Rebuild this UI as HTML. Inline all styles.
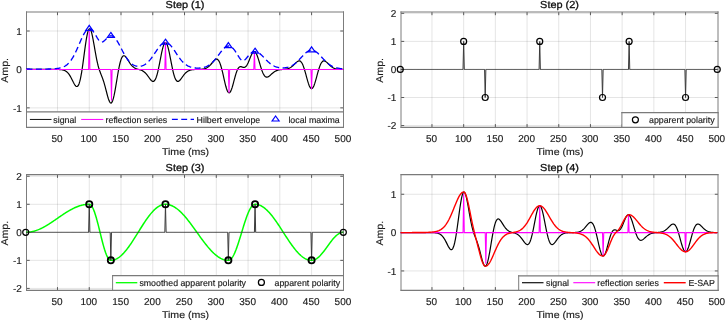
<!DOCTYPE html>
<html><head><meta charset="utf-8"><title>Steps</title><style>
html,body{margin:0;padding:0;background:#fff;}
body{width:725px;height:321px;overflow:hidden;}
svg{display:block;text-rendering:geometricPrecision;}
text{font-family:"Liberation Sans",Arial,Helvetica,sans-serif;fill:#1a1a1a;stroke:#1a1a1a;stroke-width:0.15px;stroke-linejoin:round;}
.tk{font-size:10.00px;}
.lb{font-size:9.80px;}
.ti{font-size:10.10px;fill:#111;stroke:#111;stroke-width:0.3px;}
.lg{font-size:8.80px;}
</style></head><body>
<svg width="725" height="321" viewBox="0 0 725 321">
<defs><clipPath id="c1"><rect x="26.00" y="11.50" width="318.00" height="116.30"/></clipPath><clipPath id="c2"><rect x="400.50" y="11.50" width="318.00" height="116.30"/></clipPath><clipPath id="c3"><rect x="26.00" y="174.20" width="318.00" height="116.60"/></clipPath><clipPath id="c4"><rect x="400.50" y="174.20" width="318.00" height="116.60"/></clipPath></defs>
<g id="ax1">
<g stroke="#262626" stroke-opacity="0.12" stroke-width="1" fill="none"><path d="M57.48 12.00V127.30"/><path d="M89.25 12.00V127.30"/><path d="M121.01 12.00V127.30"/><path d="M152.77 12.00V127.30"/><path d="M184.53 12.00V127.30"/><path d="M216.29 12.00V127.30"/><path d="M248.06 12.00V127.30"/><path d="M279.82 12.00V127.30"/><path d="M311.58 12.00V127.30"/><path d="M26.50 107.86H343.50"/><path d="M26.50 69.43H343.50"/><path d="M26.50 31.00H343.50"/></g>
<path d="M57.48 12.00v3.2M57.48 127.30v-3.2M89.25 12.00v3.2M89.25 127.30v-3.2M121.01 12.00v3.2M121.01 127.30v-3.2M152.77 12.00v3.2M152.77 127.30v-3.2M184.53 12.00v3.2M184.53 127.30v-3.2M216.29 12.00v3.2M216.29 127.30v-3.2M248.06 12.00v3.2M248.06 127.30v-3.2M279.82 12.00v3.2M279.82 127.30v-3.2M311.58 12.00v3.2M311.58 127.30v-3.2M26.50 107.86h3.2M343.50 107.86h-3.2M26.50 69.43h3.2M343.50 69.43h-3.2M26.50 31.00h3.2M343.50 31.00h-3.2" stroke="#5a5a5a" stroke-width="1" fill="none"/>
<path d="M26.50 11.40V127.90M343.50 11.40V127.90" stroke="#7c7c7c" stroke-width="1" fill="none"/><path d="M26.00 12.00H344.00M26.00 127.30H344.00" stroke="#7a7a7a" stroke-width="1.2" fill="none"/>
<g clip-path="url(#c1)" fill="none" stroke-linejoin="round">
<path d="M25.72 69.43 L26.36 69.43 L26.99 69.43 L27.63 69.43 L28.26 69.43 L28.90 69.43 L29.53 69.43 L30.17 69.43 L30.80 69.43 L31.44 69.43 L32.07 69.43 L32.71 69.43 L33.34 69.43 L33.98 69.43 L34.61 69.43 L35.25 69.43 L35.88 69.43 L36.52 69.43 L37.15 69.43 L37.79 69.43 L38.42 69.43 L39.06 69.43 L39.70 69.43 L40.33 69.43 L40.97 69.43 L41.60 69.43 L42.24 69.43 L42.87 69.43 L43.51 69.43 L44.14 69.43 L44.78 69.43 L45.41 69.43 L46.05 69.43 L46.68 69.43 L47.32 69.43 L47.95 69.43 L48.59 69.43 L49.22 69.43 L49.86 69.43 L50.49 69.43 L51.13 69.43 L51.77 69.43 L52.40 69.43 L53.04 69.43 L53.67 69.43 L54.31 69.44 L54.94 69.44 L55.58 69.44 L56.21 69.45 L56.85 69.46 L57.48 69.47 L58.12 69.48 L58.75 69.50 L59.39 69.53 L60.02 69.57 L60.66 69.62 L61.29 69.69 L61.93 69.78 L62.56 69.90 L63.20 70.05 L63.84 70.24 L64.47 70.47 L65.11 70.77 L65.74 71.12 L66.38 71.56 L67.01 72.08 L67.65 72.69 L68.28 73.40 L68.92 74.21 L69.55 75.13 L70.19 76.15 L70.82 77.27 L71.46 78.46 L72.09 79.71 L72.73 80.99 L73.36 82.25 L74.00 83.46 L74.63 84.55 L75.27 85.47 L75.90 86.15 L76.54 86.52 L77.18 86.52 L77.81 86.08 L78.45 85.16 L79.08 83.69 L79.72 81.68 L80.35 79.09 L80.99 75.96 L81.62 72.33 L82.26 68.25 L82.89 63.83 L83.53 59.16 L84.16 54.38 L84.80 49.64 L85.43 45.07 L86.07 40.84 L86.70 37.08 L87.34 33.91 L87.97 31.44 L88.61 29.75 L89.25 28.88 L89.88 28.85 L90.52 29.62 L91.15 31.15 L91.79 33.35 L92.42 36.11 L93.06 39.30 L93.69 42.79 L94.33 46.44 L94.96 50.12 L95.60 53.72 L96.23 57.14 L96.87 60.31 L97.50 63.19 L98.14 65.76 L98.77 68.03 L99.41 70.04 L100.04 71.84 L100.68 73.50 L101.31 75.10 L101.95 76.71 L102.59 78.39 L103.22 80.20 L103.86 82.17 L104.49 84.31 L105.13 86.61 L105.76 89.04 L106.40 91.52 L107.03 93.99 L107.67 96.36 L108.30 98.51 L108.94 100.34 L109.57 101.77 L110.21 102.70 L110.84 103.07 L111.48 102.82 L112.11 101.94 L112.75 100.43 L113.38 98.33 L114.02 95.69 L114.66 92.59 L115.29 89.14 L115.93 85.43 L116.56 81.60 L117.20 77.74 L117.83 73.98 L118.47 70.42 L119.10 67.15 L119.74 64.23 L120.37 61.72 L121.01 59.65 L121.64 58.03 L122.28 56.86 L122.91 56.11 L123.55 55.76 L124.18 55.76 L124.82 56.05 L125.45 56.60 L126.09 57.33 L126.72 58.21 L127.36 59.17 L128.00 60.18 L128.63 61.21 L129.27 62.21 L129.90 63.16 L130.54 64.06 L131.17 64.88 L131.81 65.62 L132.44 66.27 L133.08 66.84 L133.71 67.34 L134.35 67.76 L134.98 68.13 L135.62 68.43 L136.25 68.69 L136.89 68.92 L137.52 69.12 L138.16 69.30 L138.79 69.48 L139.43 69.65 L140.06 69.84 L140.70 70.05 L141.34 70.28 L141.97 70.56 L142.61 70.88 L143.24 71.25 L143.88 71.69 L144.51 72.19 L145.15 72.77 L145.78 73.41 L146.42 74.13 L147.05 74.91 L147.69 75.75 L148.32 76.63 L148.96 77.52 L149.59 78.41 L150.23 79.25 L150.86 80.02 L151.50 80.66 L152.13 81.14 L152.77 81.40 L153.41 81.40 L154.04 81.10 L154.68 80.45 L155.31 79.43 L155.95 78.02 L156.58 76.22 L157.22 74.05 L157.85 71.52 L158.49 68.69 L159.12 65.62 L159.76 62.39 L160.39 59.09 L161.03 55.84 L161.66 52.73 L162.30 49.87 L162.93 47.37 L163.57 45.31 L164.20 43.79 L164.84 42.85 L165.47 42.53 L166.11 42.85 L166.75 43.79 L167.38 45.31 L168.02 47.37 L168.65 49.87 L169.29 52.73 L169.92 55.84 L170.56 59.09 L171.19 62.39 L171.83 65.62 L172.46 68.69 L173.10 71.52 L173.73 74.05 L174.37 76.22 L175.00 78.02 L175.64 79.43 L176.27 80.45 L176.91 81.10 L177.54 81.40 L178.18 81.40 L178.82 81.14 L179.45 80.66 L180.09 80.02 L180.72 79.25 L181.36 78.41 L181.99 77.52 L182.63 76.63 L183.26 75.75 L183.90 74.91 L184.53 74.13 L185.17 73.42 L185.80 72.78 L186.44 72.21 L187.07 71.71 L187.71 71.28 L188.34 70.92 L188.98 70.62 L189.61 70.37 L190.25 70.16 L190.88 69.99 L191.52 69.86 L192.16 69.76 L192.79 69.68 L193.43 69.61 L194.06 69.56 L194.70 69.52 L195.33 69.49 L195.97 69.47 L196.60 69.45 L197.24 69.43 L197.87 69.42 L198.51 69.40 L199.14 69.38 L199.78 69.35 L200.41 69.32 L201.05 69.27 L201.68 69.22 L202.32 69.15 L202.95 69.06 L203.59 68.95 L204.23 68.80 L204.86 68.63 L205.50 68.41 L206.13 68.15 L206.77 67.84 L207.40 67.48 L208.04 67.05 L208.67 66.56 L209.31 66.01 L209.94 65.40 L210.58 64.73 L211.21 64.01 L211.85 63.26 L212.48 62.50 L213.12 61.74 L213.75 61.01 L214.39 60.36 L215.02 59.80 L215.66 59.40 L216.29 59.17 L216.93 59.17 L217.57 59.43 L218.20 59.99 L218.84 60.86 L219.47 62.07 L220.11 63.61 L220.74 65.48 L221.38 67.65 L222.01 70.08 L222.65 72.72 L223.28 75.49 L223.92 78.32 L224.55 81.13 L225.19 83.81 L225.82 86.28 L226.46 88.46 L227.09 90.26 L227.73 91.62 L228.36 92.49 L229.00 92.85 L229.64 92.69 L230.27 92.01 L230.91 90.86 L231.54 89.30 L232.18 87.39 L232.81 85.21 L233.45 82.87 L234.08 80.44 L234.72 78.03 L235.35 75.72 L235.99 73.59 L236.62 71.70 L237.26 70.10 L237.89 68.81 L238.53 67.84 L239.16 67.17 L239.80 66.79 L240.43 66.65 L241.07 66.70 L241.70 66.87 L242.34 67.09 L242.98 67.30 L243.61 67.44 L244.25 67.44 L244.88 67.26 L245.52 66.86 L246.15 66.23 L246.79 65.35 L247.42 64.25 L248.06 62.95 L248.69 61.48 L249.33 59.92 L249.96 58.31 L250.60 56.74 L251.23 55.27 L251.87 53.97 L252.50 52.91 L253.14 52.14 L253.77 51.71 L254.41 51.65 L255.05 51.97 L255.68 52.66 L256.32 53.71 L256.95 55.09 L257.59 56.74 L258.22 58.61 L258.86 60.63 L259.49 62.74 L260.13 64.87 L260.76 66.96 L261.40 68.94 L262.03 70.76 L262.67 72.39 L263.30 73.79 L263.94 74.95 L264.57 75.86 L265.21 76.51 L265.84 76.93 L266.48 77.12 L267.12 77.12 L267.75 76.96 L268.39 76.65 L269.02 76.24 L269.66 75.74 L270.29 75.20 L270.93 74.63 L271.56 74.06 L272.20 73.49 L272.83 72.96 L273.47 72.45 L274.10 71.99 L274.74 71.58 L275.37 71.21 L276.01 70.89 L276.64 70.62 L277.28 70.38 L277.91 70.19 L278.55 70.02 L279.18 69.89 L279.82 69.77 L280.46 69.68 L281.09 69.60 L281.73 69.54 L282.36 69.48 L283.00 69.42 L283.63 69.36 L284.27 69.30 L284.90 69.23 L285.54 69.14 L286.17 69.04 L286.81 68.92 L287.44 68.77 L288.08 68.59 L288.71 68.37 L289.35 68.11 L289.98 67.80 L290.62 67.45 L291.25 67.04 L291.89 66.58 L292.52 66.07 L293.16 65.51 L293.80 64.92 L294.43 64.29 L295.07 63.65 L295.70 63.02 L296.34 62.41 L296.97 61.87 L297.61 61.41 L298.24 61.07 L298.88 60.88 L299.51 60.88 L300.15 61.10 L300.78 61.56 L301.42 62.29 L302.05 63.29 L302.69 64.58 L303.32 66.13 L303.96 67.94 L304.59 69.96 L305.23 72.15 L305.87 74.46 L306.50 76.81 L307.14 79.14 L307.77 81.36 L308.41 83.40 L309.04 85.19 L309.68 86.66 L310.31 87.75 L310.95 88.42 L311.58 88.65 L312.22 88.42 L312.85 87.75 L313.49 86.66 L314.12 85.19 L314.76 83.40 L315.39 81.36 L316.03 79.14 L316.66 76.81 L317.30 74.46 L317.93 72.15 L318.57 69.96 L319.21 67.94 L319.84 66.13 L320.48 64.58 L321.11 63.29 L321.75 62.29 L322.38 61.56 L323.02 61.10 L323.65 60.88 L324.29 60.88 L324.92 61.07 L325.56 61.41 L326.19 61.87 L326.83 62.41 L327.46 63.02 L328.10 63.65 L328.73 64.29 L329.37 64.92 L330.00 65.51 L330.64 66.07 L331.28 66.58 L331.91 67.04 L332.55 67.45 L333.18 67.80 L333.82 68.11 L334.45 68.37 L335.09 68.58 L335.72 68.76 L336.36 68.91 L336.99 69.03 L337.63 69.12 L338.26 69.20 L338.90 69.25 L339.53 69.30 L340.17 69.33 L340.80 69.36 L341.44 69.38 L342.07 69.39 L342.71 69.40 L343.35 69.41" stroke="#000" stroke-width="1.2"/>
<path d="M25.72 69.43 L26.36 69.43 L26.99 69.43 L27.63 69.43 L28.26 69.43 L28.90 69.43 L29.53 69.43 L30.17 69.43 L30.80 69.43 L31.44 69.43 L32.07 69.43 L32.71 69.43 L33.34 69.43 L33.98 69.43 L34.61 69.43 L35.25 69.43 L35.88 69.43 L36.52 69.43 L37.15 69.43 L37.79 69.43 L38.42 69.43 L39.06 69.43 L39.70 69.43 L40.33 69.43 L40.97 69.43 L41.60 69.43 L42.24 69.43 L42.87 69.43 L43.51 69.43 L44.14 69.43 L44.78 69.43 L45.41 69.43 L46.05 69.43 L46.68 69.43 L47.32 69.43 L47.95 69.43 L48.59 69.43 L49.22 69.43 L49.86 69.43 L50.49 69.43 L51.13 69.43 L51.77 69.43 L52.40 69.43 L53.04 69.43 L53.67 69.43 L54.31 69.43 L54.94 69.43 L55.58 69.43 L56.21 69.43 L56.85 69.43 L57.48 69.43 L58.12 69.43 L58.75 69.43 L59.39 69.43 L60.02 69.43 L60.66 69.43 L61.29 69.43 L61.93 69.43 L62.56 69.43 L63.20 69.43 L63.84 69.43 L64.47 69.43 L65.11 69.43 L65.74 69.43 L66.38 69.43 L67.01 69.43 L67.65 69.43 L68.28 69.43 L68.92 69.43 L69.55 69.43 L70.19 69.43 L70.82 69.43 L71.46 69.43 L72.09 69.43 L72.73 69.43 L73.36 69.43 L74.00 69.43 L74.63 69.43 L75.27 69.43 L75.90 69.43 L76.54 69.43 L77.18 69.43 L77.81 69.43 L78.45 69.43 L79.08 69.43 L79.72 69.43 L80.35 69.43 L80.99 69.43 L81.62 69.43 L82.26 69.43 L82.89 69.43 L83.53 69.43 L84.16 69.43 L84.80 69.43 L85.43 69.43 L86.07 69.43 L86.70 69.43 L87.34 69.43 L87.97 69.43 L88.61 69.43 L89.25 31.00 L89.88 69.43 L90.52 69.43 L91.15 69.43 L91.79 69.43 L92.42 69.43 L93.06 69.43 L93.69 69.43 L94.33 69.43 L94.96 69.43 L95.60 69.43 L96.23 69.43 L96.87 69.43 L97.50 69.43 L98.14 69.43 L98.77 69.43 L99.41 69.43 L100.04 69.43 L100.68 69.43 L101.31 69.43 L101.95 69.43 L102.59 69.43 L103.22 69.43 L103.86 69.43 L104.49 69.43 L105.13 69.43 L105.76 69.43 L106.40 69.43 L107.03 69.43 L107.67 69.43 L108.30 69.43 L108.94 69.43 L109.57 69.43 L110.21 69.43 L110.84 69.43 L111.48 100.17 L112.11 69.43 L112.75 69.43 L113.38 69.43 L114.02 69.43 L114.66 69.43 L115.29 69.43 L115.93 69.43 L116.56 69.43 L117.20 69.43 L117.83 69.43 L118.47 69.43 L119.10 69.43 L119.74 69.43 L120.37 69.43 L121.01 69.43 L121.64 69.43 L122.28 69.43 L122.91 69.43 L123.55 69.43 L124.18 69.43 L124.82 69.43 L125.45 69.43 L126.09 69.43 L126.72 69.43 L127.36 69.43 L128.00 69.43 L128.63 69.43 L129.27 69.43 L129.90 69.43 L130.54 69.43 L131.17 69.43 L131.81 69.43 L132.44 69.43 L133.08 69.43 L133.71 69.43 L134.35 69.43 L134.98 69.43 L135.62 69.43 L136.25 69.43 L136.89 69.43 L137.52 69.43 L138.16 69.43 L138.79 69.43 L139.43 69.43 L140.06 69.43 L140.70 69.43 L141.34 69.43 L141.97 69.43 L142.61 69.43 L143.24 69.43 L143.88 69.43 L144.51 69.43 L145.15 69.43 L145.78 69.43 L146.42 69.43 L147.05 69.43 L147.69 69.43 L148.32 69.43 L148.96 69.43 L149.59 69.43 L150.23 69.43 L150.86 69.43 L151.50 69.43 L152.13 69.43 L152.77 69.43 L153.41 69.43 L154.04 69.43 L154.68 69.43 L155.31 69.43 L155.95 69.43 L156.58 69.43 L157.22 69.43 L157.85 69.43 L158.49 69.43 L159.12 69.43 L159.76 69.43 L160.39 69.43 L161.03 69.43 L161.66 69.43 L162.30 69.43 L162.93 69.43 L163.57 69.43 L164.20 69.43 L164.84 69.43 L165.47 42.53 L166.11 69.43 L166.75 69.43 L167.38 69.43 L168.02 69.43 L168.65 69.43 L169.29 69.43 L169.92 69.43 L170.56 69.43 L171.19 69.43 L171.83 69.43 L172.46 69.43 L173.10 69.43 L173.73 69.43 L174.37 69.43 L175.00 69.43 L175.64 69.43 L176.27 69.43 L176.91 69.43 L177.54 69.43 L178.18 69.43 L178.82 69.43 L179.45 69.43 L180.09 69.43 L180.72 69.43 L181.36 69.43 L181.99 69.43 L182.63 69.43 L183.26 69.43 L183.90 69.43 L184.53 69.43 L185.17 69.43 L185.80 69.43 L186.44 69.43 L187.07 69.43 L187.71 69.43 L188.34 69.43 L188.98 69.43 L189.61 69.43 L190.25 69.43 L190.88 69.43 L191.52 69.43 L192.16 69.43 L192.79 69.43 L193.43 69.43 L194.06 69.43 L194.70 69.43 L195.33 69.43 L195.97 69.43 L196.60 69.43 L197.24 69.43 L197.87 69.43 L198.51 69.43 L199.14 69.43 L199.78 69.43 L200.41 69.43 L201.05 69.43 L201.68 69.43 L202.32 69.43 L202.95 69.43 L203.59 69.43 L204.23 69.43 L204.86 69.43 L205.50 69.43 L206.13 69.43 L206.77 69.43 L207.40 69.43 L208.04 69.43 L208.67 69.43 L209.31 69.43 L209.94 69.43 L210.58 69.43 L211.21 69.43 L211.85 69.43 L212.48 69.43 L213.12 69.43 L213.75 69.43 L214.39 69.43 L215.02 69.43 L215.66 69.43 L216.29 69.43 L216.93 69.43 L217.57 69.43 L218.20 69.43 L218.84 69.43 L219.47 69.43 L220.11 69.43 L220.74 69.43 L221.38 69.43 L222.01 69.43 L222.65 69.43 L223.28 69.43 L223.92 69.43 L224.55 69.43 L225.19 69.43 L225.82 69.43 L226.46 69.43 L227.09 69.43 L227.73 69.43 L228.36 69.43 L229.00 92.49 L229.64 69.43 L230.27 69.43 L230.91 69.43 L231.54 69.43 L232.18 69.43 L232.81 69.43 L233.45 69.43 L234.08 69.43 L234.72 69.43 L235.35 69.43 L235.99 69.43 L236.62 69.43 L237.26 69.43 L237.89 69.43 L238.53 69.43 L239.16 69.43 L239.80 69.43 L240.43 69.43 L241.07 69.43 L241.70 69.43 L242.34 69.43 L242.98 69.43 L243.61 69.43 L244.25 69.43 L244.88 69.43 L245.52 69.43 L246.15 69.43 L246.79 69.43 L247.42 69.43 L248.06 69.43 L248.69 69.43 L249.33 69.43 L249.96 69.43 L250.60 69.43 L251.23 69.43 L251.87 69.43 L252.50 69.43 L253.14 69.43 L253.77 69.43 L254.41 52.14 L255.05 69.43 L255.68 69.43 L256.32 69.43 L256.95 69.43 L257.59 69.43 L258.22 69.43 L258.86 69.43 L259.49 69.43 L260.13 69.43 L260.76 69.43 L261.40 69.43 L262.03 69.43 L262.67 69.43 L263.30 69.43 L263.94 69.43 L264.57 69.43 L265.21 69.43 L265.84 69.43 L266.48 69.43 L267.12 69.43 L267.75 69.43 L268.39 69.43 L269.02 69.43 L269.66 69.43 L270.29 69.43 L270.93 69.43 L271.56 69.43 L272.20 69.43 L272.83 69.43 L273.47 69.43 L274.10 69.43 L274.74 69.43 L275.37 69.43 L276.01 69.43 L276.64 69.43 L277.28 69.43 L277.91 69.43 L278.55 69.43 L279.18 69.43 L279.82 69.43 L280.46 69.43 L281.09 69.43 L281.73 69.43 L282.36 69.43 L283.00 69.43 L283.63 69.43 L284.27 69.43 L284.90 69.43 L285.54 69.43 L286.17 69.43 L286.81 69.43 L287.44 69.43 L288.08 69.43 L288.71 69.43 L289.35 69.43 L289.98 69.43 L290.62 69.43 L291.25 69.43 L291.89 69.43 L292.52 69.43 L293.16 69.43 L293.80 69.43 L294.43 69.43 L295.07 69.43 L295.70 69.43 L296.34 69.43 L296.97 69.43 L297.61 69.43 L298.24 69.43 L298.88 69.43 L299.51 69.43 L300.15 69.43 L300.78 69.43 L301.42 69.43 L302.05 69.43 L302.69 69.43 L303.32 69.43 L303.96 69.43 L304.59 69.43 L305.23 69.43 L305.87 69.43 L306.50 69.43 L307.14 69.43 L307.77 69.43 L308.41 69.43 L309.04 69.43 L309.68 69.43 L310.31 69.43 L310.95 69.43 L311.58 88.65 L312.22 69.43 L312.85 69.43 L313.49 69.43 L314.12 69.43 L314.76 69.43 L315.39 69.43 L316.03 69.43 L316.66 69.43 L317.30 69.43 L317.93 69.43 L318.57 69.43 L319.21 69.43 L319.84 69.43 L320.48 69.43 L321.11 69.43 L321.75 69.43 L322.38 69.43 L323.02 69.43 L323.65 69.43 L324.29 69.43 L324.92 69.43 L325.56 69.43 L326.19 69.43 L326.83 69.43 L327.46 69.43 L328.10 69.43 L328.73 69.43 L329.37 69.43 L330.00 69.43 L330.64 69.43 L331.28 69.43 L331.91 69.43 L332.55 69.43 L333.18 69.43 L333.82 69.43 L334.45 69.43 L335.09 69.43 L335.72 69.43 L336.36 69.43 L336.99 69.43 L337.63 69.43 L338.26 69.43 L338.90 69.43 L339.53 69.43 L340.17 69.43 L340.80 69.43 L341.44 69.43 L342.07 69.43 L342.71 69.43 L343.35 69.43" stroke="#ff00ff" stroke-width="1.05"/>
<path d="M25.72 68.86 L26.36 68.91 L26.99 68.94 L27.63 68.97 L28.26 68.99 L28.90 69.02 L29.53 69.03 L30.17 69.05 L30.80 69.07 L31.44 69.08 L32.07 69.09 L32.71 69.10 L33.34 69.11 L33.98 69.12 L34.61 69.12 L35.25 69.13 L35.88 69.13 L36.52 69.13 L37.15 69.14 L37.79 69.14 L38.42 69.14 L39.06 69.14 L39.70 69.14 L40.33 69.13 L40.97 69.13 L41.60 69.13 L42.24 69.12 L42.87 69.12 L43.51 69.11 L44.14 69.10 L44.78 69.09 L45.41 69.08 L46.05 69.07 L46.68 69.06 L47.32 69.05 L47.95 69.03 L48.59 69.01 L49.22 68.99 L49.86 68.97 L50.49 68.95 L51.13 68.92 L51.77 68.89 L52.40 68.86 L53.04 68.83 L53.67 68.79 L54.31 68.74 L54.94 68.69 L55.58 68.63 L56.21 68.57 L56.85 68.50 L57.48 68.42 L58.12 68.32 L58.75 68.22 L59.39 68.10 L60.02 67.96 L60.66 67.81 L61.29 67.63 L61.93 67.43 L62.56 67.21 L63.20 66.96 L63.84 66.67 L64.47 66.35 L65.11 66.00 L65.74 65.60 L66.38 65.16 L67.01 64.67 L67.65 64.12 L68.28 63.53 L68.92 62.87 L69.55 62.16 L70.19 61.39 L70.82 60.55 L71.46 59.65 L72.09 58.68 L72.73 57.65 L73.36 56.56 L74.00 55.40 L74.63 54.18 L75.27 52.91 L75.90 51.58 L76.54 50.21 L77.18 48.80 L77.81 47.36 L78.45 45.90 L79.08 44.42 L79.72 42.94 L80.35 41.47 L80.99 40.03 L81.62 38.61 L82.26 37.25 L82.89 35.94 L83.53 34.71 L84.16 33.56 L84.80 32.51 L85.43 31.57 L86.07 30.75 L86.70 30.06 L87.34 29.51 L87.97 29.11 L88.61 28.85 L89.25 28.75 L89.88 28.80 L90.52 29.01 L91.15 29.36 L91.79 29.86 L92.42 30.48 L93.06 31.23 L93.69 32.09 L94.33 33.03 L94.96 34.05 L95.60 35.11 L96.23 36.18 L96.87 37.25 L97.50 38.28 L98.14 39.23 L98.77 40.09 L99.41 40.81 L100.04 41.38 L100.68 41.77 L101.31 41.99 L101.95 42.01 L102.59 41.87 L103.22 41.57 L103.86 41.13 L104.49 40.60 L105.13 39.99 L105.76 39.35 L106.40 38.69 L107.03 38.06 L107.67 37.47 L108.30 36.94 L108.94 36.50 L109.57 36.15 L110.21 35.91 L110.84 35.79 L111.48 35.80 L112.11 35.92 L112.75 36.18 L113.38 36.55 L114.02 37.05 L114.66 37.66 L115.29 38.38 L115.93 39.20 L116.56 40.11 L117.20 41.09 L117.83 42.15 L118.47 43.26 L119.10 44.42 L119.74 45.61 L120.37 46.83 L121.01 48.06 L121.64 49.29 L122.28 50.51 L122.91 51.72 L123.55 52.90 L124.18 54.05 L124.82 55.16 L125.45 56.22 L126.09 57.24 L126.72 58.21 L127.36 59.12 L128.00 59.97 L128.63 60.77 L129.27 61.51 L129.90 62.19 L130.54 62.81 L131.17 63.38 L131.81 63.89 L132.44 64.35 L133.08 64.75 L133.71 65.11 L134.35 65.42 L134.98 65.68 L135.62 65.90 L136.25 66.08 L136.89 66.21 L137.52 66.30 L138.16 66.36 L138.79 66.37 L139.43 66.35 L140.06 66.29 L140.70 66.19 L141.34 66.04 L141.97 65.87 L142.61 65.65 L143.24 65.38 L143.88 65.08 L144.51 64.74 L145.15 64.35 L145.78 63.91 L146.42 63.43 L147.05 62.91 L147.69 62.34 L148.32 61.72 L148.96 61.06 L149.59 60.35 L150.23 59.60 L150.86 58.81 L151.50 57.98 L152.13 57.12 L152.77 56.23 L153.41 55.31 L154.04 54.38 L154.68 53.43 L155.31 52.47 L155.95 51.51 L156.58 50.56 L157.22 49.63 L157.85 48.72 L158.49 47.85 L159.12 47.02 L159.76 46.23 L160.39 45.51 L161.03 44.84 L161.66 44.25 L162.30 43.74 L162.93 43.32 L163.57 42.98 L164.20 42.73 L164.84 42.58 L165.47 42.53 L166.11 42.57 L166.75 42.71 L167.38 42.95 L168.02 43.28 L168.65 43.70 L169.29 44.20 L169.92 44.79 L170.56 45.44 L171.19 46.16 L171.83 46.94 L172.46 47.77 L173.10 48.64 L173.73 49.55 L174.37 50.48 L175.00 51.43 L175.64 52.38 L176.27 53.34 L176.91 54.30 L177.54 55.24 L178.18 56.17 L178.82 57.08 L179.45 57.95 L180.09 58.80 L180.72 59.61 L181.36 60.38 L181.99 61.11 L182.63 61.80 L183.26 62.45 L183.90 63.05 L184.53 63.62 L185.17 64.14 L185.80 64.62 L186.44 65.05 L187.07 65.46 L187.71 65.82 L188.34 66.15 L188.98 66.44 L189.61 66.71 L190.25 66.94 L190.88 67.15 L191.52 67.33 L192.16 67.49 L192.79 67.63 L193.43 67.74 L194.06 67.84 L194.70 67.92 L195.33 67.98 L195.97 68.03 L196.60 68.06 L197.24 68.08 L197.87 68.09 L198.51 68.08 L199.14 68.05 L199.78 68.01 L200.41 67.96 L201.05 67.89 L201.68 67.80 L202.32 67.69 L202.95 67.57 L203.59 67.42 L204.23 67.25 L204.86 67.06 L205.50 66.84 L206.13 66.60 L206.77 66.33 L207.40 66.02 L208.04 65.69 L208.67 65.32 L209.31 64.91 L209.94 64.47 L210.58 63.99 L211.21 63.47 L211.85 62.91 L212.48 62.32 L213.12 61.68 L213.75 61.01 L214.39 60.31 L215.02 59.57 L215.66 58.80 L216.29 58.00 L216.93 57.18 L217.57 56.35 L218.20 55.50 L218.84 54.64 L219.47 53.78 L220.11 52.93 L220.74 52.10 L221.38 51.29 L222.01 50.50 L222.65 49.76 L223.28 49.06 L223.92 48.41 L224.55 47.82 L225.19 47.31 L225.82 46.87 L226.46 46.51 L227.09 46.23 L227.73 46.05 L228.36 45.97 L229.00 45.98 L229.64 46.09 L230.27 46.31 L230.91 46.62 L231.54 47.03 L232.18 47.54 L232.81 48.14 L233.45 48.82 L234.08 49.59 L234.72 50.43 L235.35 51.33 L235.99 52.29 L236.62 53.28 L237.26 54.30 L237.89 55.34 L238.53 56.36 L239.16 57.35 L239.80 58.27 L240.43 59.11 L241.07 59.81 L241.70 60.34 L242.34 60.67 L242.98 60.78 L243.61 60.65 L244.25 60.33 L244.88 59.83 L245.52 59.21 L246.15 58.51 L246.79 57.76 L247.42 56.98 L248.06 56.22 L248.69 55.47 L249.33 54.77 L249.96 54.12 L250.60 53.53 L251.23 53.01 L251.87 52.56 L252.50 52.19 L253.14 51.90 L253.77 51.70 L254.41 51.58 L255.05 51.55 L255.68 51.59 L256.32 51.71 L256.95 51.91 L257.59 52.18 L258.22 52.52 L258.86 52.92 L259.49 53.37 L260.13 53.88 L260.76 54.42 L261.40 55.01 L262.03 55.62 L262.67 56.25 L263.30 56.90 L263.94 57.56 L264.57 58.23 L265.21 58.89 L265.84 59.55 L266.48 60.19 L267.12 60.82 L267.75 61.43 L268.39 62.02 L269.02 62.58 L269.66 63.12 L270.29 63.62 L270.93 64.10 L271.56 64.54 L272.20 64.96 L272.83 65.34 L273.47 65.69 L274.10 66.01 L274.74 66.31 L275.37 66.57 L276.01 66.81 L276.64 67.02 L277.28 67.20 L277.91 67.36 L278.55 67.50 L279.18 67.62 L279.82 67.71 L280.46 67.79 L281.09 67.84 L281.73 67.88 L282.36 67.89 L283.00 67.89 L283.63 67.87 L284.27 67.83 L284.90 67.77 L285.54 67.69 L286.17 67.59 L286.81 67.46 L287.44 67.32 L288.08 67.15 L288.71 66.96 L289.35 66.74 L289.98 66.49 L290.62 66.22 L291.25 65.92 L291.89 65.59 L292.52 65.23 L293.16 64.84 L293.80 64.41 L294.43 63.96 L295.07 63.47 L295.70 62.96 L296.34 62.41 L296.97 61.84 L297.61 61.24 L298.24 60.62 L298.88 59.98 L299.51 59.32 L300.15 58.65 L300.78 57.97 L301.42 57.29 L302.05 56.60 L302.69 55.93 L303.32 55.26 L303.96 54.62 L304.59 53.99 L305.23 53.40 L305.87 52.84 L306.50 52.33 L307.14 51.86 L307.77 51.44 L308.41 51.08 L309.04 50.77 L309.68 50.53 L310.31 50.36 L310.95 50.25 L311.58 50.21 L312.22 50.25 L312.85 50.35 L313.49 50.52 L314.12 50.75 L314.76 51.05 L315.39 51.41 L316.03 51.82 L316.66 52.28 L317.30 52.80 L317.93 53.35 L318.57 53.94 L319.21 54.56 L319.84 55.21 L320.48 55.87 L321.11 56.55 L321.75 57.23 L322.38 57.92 L323.02 58.60 L323.65 59.28 L324.29 59.94 L324.92 60.59 L325.56 61.22 L326.19 61.83 L326.83 62.41 L327.46 62.97 L328.10 63.50 L328.73 64.00 L329.37 64.47 L330.00 64.91 L330.64 65.32 L331.28 65.70 L331.91 66.05 L332.55 66.37 L333.18 66.67 L333.82 66.94 L334.45 67.18 L335.09 67.40 L335.72 67.60 L336.36 67.78 L336.99 67.94 L337.63 68.09 L338.26 68.21 L338.90 68.33 L339.53 68.43 L340.17 68.52 L340.80 68.59 L341.44 68.66 L342.07 68.72 L342.71 68.78 L343.35 68.82" stroke="#0000ff" stroke-width="1.35" stroke-dasharray="5.95 3.467" stroke-dashoffset="-0.77"/>
</g>
<path d="M89.25 25.40L92.75 30.40L85.75 30.40Z" stroke="#0000ff" stroke-width="1.2" fill="none" stroke-linejoin="miter"/>
<path d="M110.84 32.44L114.34 37.44L107.34 37.44Z" stroke="#0000ff" stroke-width="1.2" fill="none" stroke-linejoin="miter"/>
<path d="M165.47 39.18L168.97 44.18L161.97 44.18Z" stroke="#0000ff" stroke-width="1.2" fill="none" stroke-linejoin="miter"/>
<path d="M228.36 42.62L231.86 47.62L224.86 47.62Z" stroke="#0000ff" stroke-width="1.2" fill="none" stroke-linejoin="miter"/>
<path d="M255.05 48.20L258.55 53.20L251.55 53.20Z" stroke="#0000ff" stroke-width="1.2" fill="none" stroke-linejoin="miter"/>
<path d="M311.58 46.86L315.08 51.86L308.08 51.86Z" stroke="#0000ff" stroke-width="1.2" fill="none" stroke-linejoin="miter"/>
<text x="57.08" y="141.50" class="tk" text-anchor="middle">50</text>
<text x="88.84" y="141.50" class="tk" text-anchor="middle">100</text>
<text x="120.61" y="141.50" class="tk" text-anchor="middle">150</text>
<text x="152.37" y="141.50" class="tk" text-anchor="middle">200</text>
<text x="184.13" y="141.50" class="tk" text-anchor="middle">250</text>
<text x="215.89" y="141.50" class="tk" text-anchor="middle">300</text>
<text x="247.66" y="141.50" class="tk" text-anchor="middle">350</text>
<text x="279.42" y="141.50" class="tk" text-anchor="middle">400</text>
<text x="311.18" y="141.50" class="tk" text-anchor="middle">450</text>
<text x="342.95" y="141.50" class="tk" text-anchor="middle">500</text>
<text x="21.90" y="111.66" class="tk" text-anchor="end">-1</text>
<text x="21.90" y="73.23" class="tk" text-anchor="end">0</text>
<text x="21.90" y="34.80" class="tk" text-anchor="end">1</text>
<text class="ti" text-anchor="middle" transform="translate(185.00 7.85) scale(1.080 1)">Step (1)</text>
<text class="lb" text-anchor="middle" transform="translate(185.50 155.40) scale(1.080 1)">Time (ms)</text>
<text class="lb" text-anchor="middle" transform="translate(8.10 70.35) rotate(-90) scale(1.080 1)">Amp.</text>
</g>
<rect x="26.50" y="111.90" width="317.00" height="15.40" fill="#fff"/><path d="M26.50 111.30V127.90M343.50 111.30V127.90" stroke="#7c7c7c" stroke-width="1" fill="none"/><path d="M26.00 111.90H344.00M26.00 127.30H344.00" stroke="#7a7a7a" stroke-width="1.2" fill="none"/>
<path d="M29.9 119.45H51.5" stroke="#111" stroke-width="1.0"/>
<path d="M81.2 119.45H103.3" stroke="#ff00ff" stroke-width="1.0"/>
<path d="M171.9 119.45H194.0" stroke="#0000ff" stroke-width="1.2" stroke-dasharray="5.9 3.45"/>
<path d="M275.60 116.00L279.10 121.00L272.10 121.00Z" stroke="#0000ff" stroke-width="1.2" fill="none" stroke-linejoin="miter"/>
<text x="53.30" y="123.00" class="lg">signal</text>
<text x="105.60" y="123.00" class="lg">reflection series</text>
<text x="196.60" y="123.00" class="lg">Hilbert envelope</text>
<text x="288.40" y="123.00" class="lg">local maxima</text>
<g id="ax2">
<g stroke="#262626" stroke-opacity="0.12" stroke-width="1" fill="none"><path d="M431.96 12.00V127.30"/><path d="M463.66 12.00V127.30"/><path d="M495.36 12.00V127.30"/><path d="M527.06 12.00V127.30"/><path d="M558.75 12.00V127.30"/><path d="M590.45 12.00V127.30"/><path d="M622.15 12.00V127.30"/><path d="M653.85 12.00V127.30"/><path d="M685.55 12.00V127.30"/><path d="M401.00 125.55H718.00"/><path d="M401.00 97.50H718.00"/><path d="M401.00 69.45H718.00"/><path d="M401.00 41.40H718.00"/><path d="M401.00 13.35H718.00"/></g>
<path d="M431.96 12.00v3.2M431.96 127.30v-3.2M463.66 12.00v3.2M463.66 127.30v-3.2M495.36 12.00v3.2M495.36 127.30v-3.2M527.06 12.00v3.2M527.06 127.30v-3.2M558.75 12.00v3.2M558.75 127.30v-3.2M590.45 12.00v3.2M590.45 127.30v-3.2M622.15 12.00v3.2M622.15 127.30v-3.2M653.85 12.00v3.2M653.85 127.30v-3.2M685.55 12.00v3.2M685.55 127.30v-3.2M401.00 125.55h3.2M718.00 125.55h-3.2M401.00 97.50h3.2M718.00 97.50h-3.2M401.00 69.45h3.2M718.00 69.45h-3.2M401.00 41.40h3.2M718.00 41.40h-3.2M401.00 13.35h3.2M718.00 13.35h-3.2" stroke="#5a5a5a" stroke-width="1" fill="none"/>
<path d="M401.00 11.40V127.90M718.00 11.40V127.90" stroke="#7c7c7c" stroke-width="1" fill="none"/><path d="M400.50 12.00H718.50M400.50 127.30H718.50" stroke="#7a7a7a" stroke-width="1.2" fill="none"/>
<g clip-path="url(#c2)" fill="none" stroke-linejoin="round">
<path d="M400.26 69.45 L400.89 69.45 L401.53 69.45 L402.16 69.45 L402.80 69.45 L403.43 69.45 L404.06 69.45 L404.70 69.45 L405.33 69.45 L405.97 69.45 L406.60 69.45 L407.23 69.45 L407.87 69.45 L408.50 69.45 L409.14 69.45 L409.77 69.45 L410.40 69.45 L411.04 69.45 L411.67 69.45 L412.31 69.45 L412.94 69.45 L413.57 69.45 L414.21 69.45 L414.84 69.45 L415.48 69.45 L416.11 69.45 L416.74 69.45 L417.38 69.45 L418.01 69.45 L418.65 69.45 L419.28 69.45 L419.91 69.45 L420.55 69.45 L421.18 69.45 L421.82 69.45 L422.45 69.45 L423.08 69.45 L423.72 69.45 L424.35 69.45 L424.99 69.45 L425.62 69.45 L426.25 69.45 L426.89 69.45 L427.52 69.45 L428.16 69.45 L428.79 69.45 L429.42 69.45 L430.06 69.45 L430.69 69.45 L431.33 69.45 L431.96 69.45 L432.59 69.45 L433.23 69.45 L433.86 69.45 L434.49 69.45 L435.13 69.45 L435.76 69.45 L436.40 69.45 L437.03 69.45 L437.66 69.45 L438.30 69.45 L438.93 69.45 L439.57 69.45 L440.20 69.45 L440.83 69.45 L441.47 69.45 L442.10 69.45 L442.74 69.45 L443.37 69.45 L444.00 69.45 L444.64 69.45 L445.27 69.45 L445.91 69.45 L446.54 69.45 L447.17 69.45 L447.81 69.45 L448.44 69.45 L449.08 69.45 L449.71 69.45 L450.34 69.45 L450.98 69.45 L451.61 69.45 L452.25 69.45 L452.88 69.45 L453.51 69.45 L454.15 69.45 L454.78 69.45 L455.42 69.45 L456.05 69.45 L456.68 69.45 L457.32 69.45 L457.95 69.45 L458.59 69.45 L459.22 69.45 L459.85 69.45 L460.49 69.45 L461.12 69.45 L461.76 69.45 L462.39 69.45 L463.02 69.45 L463.66 41.40 L464.29 69.45 L464.93 69.45 L465.56 69.45 L466.19 69.45 L466.83 69.45 L467.46 69.45 L468.10 69.45 L468.73 69.45 L469.36 69.45 L470.00 69.45 L470.63 69.45 L471.27 69.45 L471.90 69.45 L472.53 69.45 L473.17 69.45 L473.80 69.45 L474.44 69.45 L475.07 69.45 L475.70 69.45 L476.34 69.45 L476.97 69.45 L477.61 69.45 L478.24 69.45 L478.87 69.45 L479.51 69.45 L480.14 69.45 L480.78 69.45 L481.41 69.45 L482.04 69.45 L482.68 69.45 L483.31 69.45 L483.95 69.45 L484.58 69.45 L485.21 97.50 L485.85 69.45 L486.48 69.45 L487.12 69.45 L487.75 69.45 L488.38 69.45 L489.02 69.45 L489.65 69.45 L490.29 69.45 L490.92 69.45 L491.55 69.45 L492.19 69.45 L492.82 69.45 L493.46 69.45 L494.09 69.45 L494.72 69.45 L495.36 69.45 L495.99 69.45 L496.62 69.45 L497.26 69.45 L497.89 69.45 L498.53 69.45 L499.16 69.45 L499.79 69.45 L500.43 69.45 L501.06 69.45 L501.70 69.45 L502.33 69.45 L502.96 69.45 L503.60 69.45 L504.23 69.45 L504.87 69.45 L505.50 69.45 L506.13 69.45 L506.77 69.45 L507.40 69.45 L508.04 69.45 L508.67 69.45 L509.30 69.45 L509.94 69.45 L510.57 69.45 L511.21 69.45 L511.84 69.45 L512.47 69.45 L513.11 69.45 L513.74 69.45 L514.38 69.45 L515.01 69.45 L515.64 69.45 L516.28 69.45 L516.91 69.45 L517.55 69.45 L518.18 69.45 L518.81 69.45 L519.45 69.45 L520.08 69.45 L520.72 69.45 L521.35 69.45 L521.98 69.45 L522.62 69.45 L523.25 69.45 L523.89 69.45 L524.52 69.45 L525.15 69.45 L525.79 69.45 L526.42 69.45 L527.06 69.45 L527.69 69.45 L528.32 69.45 L528.96 69.45 L529.59 69.45 L530.23 69.45 L530.86 69.45 L531.49 69.45 L532.13 69.45 L532.76 69.45 L533.40 69.45 L534.03 69.45 L534.66 69.45 L535.30 69.45 L535.93 69.45 L536.57 69.45 L537.20 69.45 L537.83 69.45 L538.47 69.45 L539.10 69.45 L539.74 41.40 L540.37 69.45 L541.00 69.45 L541.64 69.45 L542.27 69.45 L542.91 69.45 L543.54 69.45 L544.17 69.45 L544.81 69.45 L545.44 69.45 L546.08 69.45 L546.71 69.45 L547.34 69.45 L547.98 69.45 L548.61 69.45 L549.25 69.45 L549.88 69.45 L550.51 69.45 L551.15 69.45 L551.78 69.45 L552.42 69.45 L553.05 69.45 L553.68 69.45 L554.32 69.45 L554.95 69.45 L555.59 69.45 L556.22 69.45 L556.85 69.45 L557.49 69.45 L558.12 69.45 L558.75 69.45 L559.39 69.45 L560.02 69.45 L560.66 69.45 L561.29 69.45 L561.92 69.45 L562.56 69.45 L563.19 69.45 L563.83 69.45 L564.46 69.45 L565.09 69.45 L565.73 69.45 L566.36 69.45 L567.00 69.45 L567.63 69.45 L568.26 69.45 L568.90 69.45 L569.53 69.45 L570.17 69.45 L570.80 69.45 L571.43 69.45 L572.07 69.45 L572.70 69.45 L573.34 69.45 L573.97 69.45 L574.60 69.45 L575.24 69.45 L575.87 69.45 L576.51 69.45 L577.14 69.45 L577.77 69.45 L578.41 69.45 L579.04 69.45 L579.68 69.45 L580.31 69.45 L580.94 69.45 L581.58 69.45 L582.21 69.45 L582.85 69.45 L583.48 69.45 L584.11 69.45 L584.75 69.45 L585.38 69.45 L586.02 69.45 L586.65 69.45 L587.28 69.45 L587.92 69.45 L588.55 69.45 L589.19 69.45 L589.82 69.45 L590.45 69.45 L591.09 69.45 L591.72 69.45 L592.36 69.45 L592.99 69.45 L593.62 69.45 L594.26 69.45 L594.89 69.45 L595.53 69.45 L596.16 69.45 L596.79 69.45 L597.43 69.45 L598.06 69.45 L598.70 69.45 L599.33 69.45 L599.96 69.45 L600.60 69.45 L601.23 69.45 L601.87 69.45 L602.50 97.50 L603.13 69.45 L603.77 69.45 L604.40 69.45 L605.04 69.45 L605.67 69.45 L606.30 69.45 L606.94 69.45 L607.57 69.45 L608.21 69.45 L608.84 69.45 L609.47 69.45 L610.11 69.45 L610.74 69.45 L611.38 69.45 L612.01 69.45 L612.64 69.45 L613.28 69.45 L613.91 69.45 L614.55 69.45 L615.18 69.45 L615.81 69.45 L616.45 69.45 L617.08 69.45 L617.72 69.45 L618.35 69.45 L618.98 69.45 L619.62 69.45 L620.25 69.45 L620.89 69.45 L621.52 69.45 L622.15 69.45 L622.79 69.45 L623.42 69.45 L624.05 69.45 L624.69 69.45 L625.32 69.45 L625.96 69.45 L626.59 69.45 L627.22 69.45 L627.86 69.45 L628.49 69.45 L629.13 41.40 L629.76 69.45 L630.39 69.45 L631.03 69.45 L631.66 69.45 L632.30 69.45 L632.93 69.45 L633.56 69.45 L634.20 69.45 L634.83 69.45 L635.47 69.45 L636.10 69.45 L636.73 69.45 L637.37 69.45 L638.00 69.45 L638.64 69.45 L639.27 69.45 L639.90 69.45 L640.54 69.45 L641.17 69.45 L641.81 69.45 L642.44 69.45 L643.07 69.45 L643.71 69.45 L644.34 69.45 L644.98 69.45 L645.61 69.45 L646.24 69.45 L646.88 69.45 L647.51 69.45 L648.15 69.45 L648.78 69.45 L649.41 69.45 L650.05 69.45 L650.68 69.45 L651.32 69.45 L651.95 69.45 L652.58 69.45 L653.22 69.45 L653.85 69.45 L654.49 69.45 L655.12 69.45 L655.75 69.45 L656.39 69.45 L657.02 69.45 L657.66 69.45 L658.29 69.45 L658.92 69.45 L659.56 69.45 L660.19 69.45 L660.83 69.45 L661.46 69.45 L662.09 69.45 L662.73 69.45 L663.36 69.45 L664.00 69.45 L664.63 69.45 L665.26 69.45 L665.90 69.45 L666.53 69.45 L667.17 69.45 L667.80 69.45 L668.43 69.45 L669.07 69.45 L669.70 69.45 L670.34 69.45 L670.97 69.45 L671.60 69.45 L672.24 69.45 L672.87 69.45 L673.51 69.45 L674.14 69.45 L674.77 69.45 L675.41 69.45 L676.04 69.45 L676.68 69.45 L677.31 69.45 L677.94 69.45 L678.58 69.45 L679.21 69.45 L679.85 69.45 L680.48 69.45 L681.11 69.45 L681.75 69.45 L682.38 69.45 L683.02 69.45 L683.65 69.45 L684.28 69.45 L684.92 69.45 L685.55 97.50 L686.18 69.45 L686.82 69.45 L687.45 69.45 L688.09 69.45 L688.72 69.45 L689.35 69.45 L689.99 69.45 L690.62 69.45 L691.26 69.45 L691.89 69.45 L692.52 69.45 L693.16 69.45 L693.79 69.45 L694.43 69.45 L695.06 69.45 L695.69 69.45 L696.33 69.45 L696.96 69.45 L697.60 69.45 L698.23 69.45 L698.86 69.45 L699.50 69.45 L700.13 69.45 L700.77 69.45 L701.40 69.45 L702.03 69.45 L702.67 69.45 L703.30 69.45 L703.94 69.45 L704.57 69.45 L705.20 69.45 L705.84 69.45 L706.47 69.45 L707.11 69.45 L707.74 69.45 L708.37 69.45 L709.01 69.45 L709.64 69.45 L710.28 69.45 L710.91 69.45 L711.54 69.45 L712.18 69.45 L712.81 69.45 L713.45 69.45 L714.08 69.45 L714.71 69.45 L715.35 69.45 L715.98 69.45 L716.62 69.45 L717.25 69.45" stroke="#3a3a3a" stroke-width="1.0"/>
</g>
<circle cx="400.26" cy="69.45" r="3.00" stroke="#000" stroke-width="1.20" fill="none"/>
<circle cx="463.66" cy="41.40" r="3.00" stroke="#000" stroke-width="1.20" fill="none"/>
<circle cx="485.21" cy="97.50" r="3.00" stroke="#000" stroke-width="1.20" fill="none"/>
<circle cx="539.74" cy="41.40" r="3.00" stroke="#000" stroke-width="1.20" fill="none"/>
<circle cx="602.50" cy="97.50" r="3.00" stroke="#000" stroke-width="1.20" fill="none"/>
<circle cx="629.13" cy="41.40" r="3.00" stroke="#000" stroke-width="1.20" fill="none"/>
<circle cx="685.55" cy="97.50" r="3.00" stroke="#000" stroke-width="1.20" fill="none"/>
<circle cx="717.25" cy="69.45" r="3.00" stroke="#000" stroke-width="1.20" fill="none"/>
<text x="431.56" y="141.50" class="tk" text-anchor="middle">50</text>
<text x="463.26" y="141.50" class="tk" text-anchor="middle">100</text>
<text x="494.96" y="141.50" class="tk" text-anchor="middle">150</text>
<text x="526.66" y="141.50" class="tk" text-anchor="middle">200</text>
<text x="558.36" y="141.50" class="tk" text-anchor="middle">250</text>
<text x="590.05" y="141.50" class="tk" text-anchor="middle">300</text>
<text x="621.75" y="141.50" class="tk" text-anchor="middle">350</text>
<text x="653.45" y="141.50" class="tk" text-anchor="middle">400</text>
<text x="685.15" y="141.50" class="tk" text-anchor="middle">450</text>
<text x="716.85" y="141.50" class="tk" text-anchor="middle">500</text>
<text x="396.40" y="129.35" class="tk" text-anchor="end">-2</text>
<text x="396.40" y="101.30" class="tk" text-anchor="end">-1</text>
<text x="396.40" y="73.25" class="tk" text-anchor="end">0</text>
<text x="396.40" y="45.20" class="tk" text-anchor="end">1</text>
<text x="396.40" y="17.15" class="tk" text-anchor="end">2</text>
<text class="ti" text-anchor="middle" transform="translate(559.50 7.85) scale(1.080 1)">Step (2)</text>
<text class="lb" text-anchor="middle" transform="translate(560.00 155.40) scale(1.080 1)">Time (ms)</text>
<text class="lb" text-anchor="middle" transform="translate(382.60 70.35) rotate(-90) scale(1.080 1)">Amp.</text>
</g>
<rect x="621.90" y="112.60" width="96.10" height="14.70" fill="#fff"/><path d="M621.90 112.00V127.90M718.00 112.00V127.90" stroke="#7c7c7c" stroke-width="1" fill="none"/><path d="M621.40 112.60H718.50M621.40 127.30H718.50" stroke="#7a7a7a" stroke-width="1.2" fill="none"/>
<circle cx="635.40" cy="119.80" r="3.00" stroke="#000" stroke-width="1.20" fill="none"/>
<text x="649.00" y="123.20" class="lg">apparent polarity</text>
<g id="ax3">
<g stroke="#262626" stroke-opacity="0.12" stroke-width="1" fill="none"><path d="M57.48 174.70V290.30"/><path d="M89.25 174.70V290.30"/><path d="M121.01 174.70V290.30"/><path d="M152.77 174.70V290.30"/><path d="M184.53 174.70V290.30"/><path d="M216.29 174.70V290.30"/><path d="M248.06 174.70V290.30"/><path d="M279.82 174.70V290.30"/><path d="M311.58 174.70V290.30"/><path d="M26.50 288.41H343.50"/><path d="M26.50 260.37H343.50"/><path d="M26.50 232.33H343.50"/><path d="M26.50 204.29H343.50"/><path d="M26.50 176.25H343.50"/></g>
<path d="M57.48 174.70v3.2M57.48 290.30v-3.2M89.25 174.70v3.2M89.25 290.30v-3.2M121.01 174.70v3.2M121.01 290.30v-3.2M152.77 174.70v3.2M152.77 290.30v-3.2M184.53 174.70v3.2M184.53 290.30v-3.2M216.29 174.70v3.2M216.29 290.30v-3.2M248.06 174.70v3.2M248.06 290.30v-3.2M279.82 174.70v3.2M279.82 290.30v-3.2M311.58 174.70v3.2M311.58 290.30v-3.2M26.50 288.41h3.2M343.50 288.41h-3.2M26.50 260.37h3.2M343.50 260.37h-3.2M26.50 232.33h3.2M343.50 232.33h-3.2M26.50 204.29h3.2M343.50 204.29h-3.2M26.50 176.25h3.2M343.50 176.25h-3.2" stroke="#5a5a5a" stroke-width="1" fill="none"/>
<path d="M26.50 174.10V290.90M343.50 174.10V290.90" stroke="#7c7c7c" stroke-width="1" fill="none"/><path d="M26.00 174.70H344.00M26.00 290.30H344.00" stroke="#7a7a7a" stroke-width="1.2" fill="none"/>
<g clip-path="url(#c3)" fill="none" stroke-linejoin="round">
<path d="M25.72 232.33 L26.36 232.32 L26.99 232.30 L27.63 232.27 L28.26 232.22 L28.90 232.16 L29.53 232.08 L30.17 231.99 L30.80 231.89 L31.44 231.77 L32.07 231.64 L32.71 231.50 L33.34 231.35 L33.98 231.18 L34.61 231.00 L35.25 230.80 L35.88 230.60 L36.52 230.38 L37.15 230.15 L37.79 229.91 L38.42 229.65 L39.06 229.39 L39.70 229.11 L40.33 228.83 L40.97 228.53 L41.60 228.22 L42.24 227.91 L42.87 227.58 L43.51 227.25 L44.14 226.90 L44.78 226.55 L45.41 226.19 L46.05 225.82 L46.68 225.45 L47.32 225.06 L47.95 224.67 L48.59 224.28 L49.22 223.88 L49.86 223.47 L50.49 223.06 L51.13 222.64 L51.77 222.22 L52.40 221.80 L53.04 221.37 L53.67 220.94 L54.31 220.50 L54.94 220.07 L55.58 219.63 L56.21 219.19 L56.85 218.75 L57.48 218.31 L58.12 217.87 L58.75 217.43 L59.39 216.99 L60.02 216.55 L60.66 216.12 L61.29 215.68 L61.93 215.25 L62.56 214.82 L63.20 214.40 L63.84 213.98 L64.47 213.56 L65.11 213.15 L65.74 212.74 L66.38 212.34 L67.01 211.95 L67.65 211.56 L68.28 211.17 L68.92 210.80 L69.55 210.43 L70.19 210.07 L70.82 209.72 L71.46 209.37 L72.09 209.04 L72.73 208.71 L73.36 208.40 L74.00 208.09 L74.63 207.79 L75.27 207.51 L75.90 207.23 L76.54 206.97 L77.18 206.71 L77.81 206.47 L78.45 206.24 L79.08 206.02 L79.72 205.82 L80.35 205.62 L80.99 205.44 L81.62 205.27 L82.26 205.12 L82.89 204.98 L83.53 204.85 L84.16 204.73 L84.80 204.63 L85.43 204.54 L86.07 204.46 L86.70 204.40 L87.34 204.35 L87.97 204.32 L88.61 204.30 L89.25 204.29 L89.88 204.41 L90.52 204.77 L91.15 205.36 L91.79 206.18 L92.42 207.23 L93.06 208.49 L93.69 209.95 L94.33 211.61 L94.96 213.44 L95.60 215.43 L96.23 217.57 L96.87 219.83 L97.50 222.20 L98.14 224.66 L98.77 227.18 L99.41 229.74 L100.04 232.33 L100.68 234.92 L101.31 237.48 L101.95 240.00 L102.59 242.46 L103.22 244.83 L103.86 247.09 L104.49 249.23 L105.13 251.22 L105.76 253.05 L106.40 254.71 L107.03 256.17 L107.67 257.43 L108.30 258.48 L108.94 259.30 L109.57 259.89 L110.21 260.25 L110.84 260.37 L111.48 260.35 L112.11 260.30 L112.75 260.20 L113.38 260.07 L114.02 259.90 L114.66 259.70 L115.29 259.46 L115.93 259.18 L116.56 258.87 L117.20 258.52 L117.83 258.14 L118.47 257.72 L119.10 257.27 L119.74 256.78 L120.37 256.26 L121.01 255.72 L121.64 255.13 L122.28 254.52 L122.91 253.88 L123.55 253.21 L124.18 252.52 L124.82 251.79 L125.45 251.04 L126.09 250.27 L126.72 249.47 L127.36 248.65 L128.00 247.80 L128.63 246.94 L129.27 246.05 L129.90 245.15 L130.54 244.23 L131.17 243.30 L131.81 242.35 L132.44 241.38 L133.08 240.41 L133.71 239.42 L134.35 238.43 L134.98 237.42 L135.62 236.41 L136.25 235.40 L136.89 234.38 L137.52 233.35 L138.16 232.33 L138.79 231.31 L139.43 230.28 L140.06 229.26 L140.70 228.25 L141.34 227.24 L141.97 226.23 L142.61 225.24 L143.24 224.25 L143.88 223.28 L144.51 222.31 L145.15 221.36 L145.78 220.43 L146.42 219.51 L147.05 218.61 L147.69 217.72 L148.32 216.86 L148.96 216.01 L149.59 215.19 L150.23 214.39 L150.86 213.62 L151.50 212.87 L152.13 212.14 L152.77 211.45 L153.41 210.78 L154.04 210.14 L154.68 209.53 L155.31 208.94 L155.95 208.40 L156.58 207.88 L157.22 207.39 L157.85 206.94 L158.49 206.52 L159.12 206.14 L159.76 205.79 L160.39 205.48 L161.03 205.20 L161.66 204.96 L162.30 204.76 L162.93 204.59 L163.57 204.46 L164.20 204.36 L164.84 204.31 L165.47 204.29 L166.11 204.30 L166.75 204.35 L167.38 204.42 L168.02 204.52 L168.65 204.64 L169.29 204.80 L169.92 204.98 L170.56 205.19 L171.19 205.43 L171.83 205.69 L172.46 205.98 L173.10 206.30 L173.73 206.64 L174.37 207.01 L175.00 207.41 L175.64 207.83 L176.27 208.27 L176.91 208.74 L177.54 209.23 L178.18 209.75 L178.82 210.29 L179.45 210.85 L180.09 211.43 L180.72 212.04 L181.36 212.66 L181.99 213.30 L182.63 213.97 L183.26 214.65 L183.90 215.35 L184.53 216.07 L185.17 216.80 L185.80 217.55 L186.44 218.31 L187.07 219.09 L187.71 219.88 L188.34 220.68 L188.98 221.50 L189.61 222.32 L190.25 223.16 L190.88 224.00 L191.52 224.86 L192.16 225.72 L192.79 226.59 L193.43 227.46 L194.06 228.34 L194.70 229.22 L195.33 230.11 L195.97 231.00 L196.60 231.89 L197.24 232.77 L197.87 233.66 L198.51 234.55 L199.14 235.44 L199.78 236.32 L200.41 237.20 L201.05 238.07 L201.68 238.94 L202.32 239.80 L202.95 240.66 L203.59 241.50 L204.23 242.34 L204.86 243.16 L205.50 243.98 L206.13 244.78 L206.77 245.57 L207.40 246.35 L208.04 247.11 L208.67 247.86 L209.31 248.59 L209.94 249.31 L210.58 250.01 L211.21 250.69 L211.85 251.36 L212.48 252.00 L213.12 252.62 L213.75 253.23 L214.39 253.81 L215.02 254.37 L215.66 254.91 L216.29 255.43 L216.93 255.92 L217.57 256.39 L218.20 256.83 L218.84 257.25 L219.47 257.65 L220.11 258.02 L220.74 258.36 L221.38 258.68 L222.01 258.97 L222.65 259.23 L223.28 259.47 L223.92 259.68 L224.55 259.86 L225.19 260.02 L225.82 260.14 L226.46 260.24 L227.09 260.31 L227.73 260.36 L228.36 260.37 L229.00 260.29 L229.64 260.06 L230.27 259.67 L230.91 259.12 L231.54 258.43 L232.18 257.59 L232.81 256.61 L233.45 255.50 L234.08 254.25 L234.72 252.88 L235.35 251.40 L235.99 249.81 L236.62 248.13 L237.26 246.35 L237.89 244.50 L238.53 242.57 L239.16 240.59 L239.80 238.57 L240.43 236.51 L241.07 234.43 L241.70 232.33 L242.34 230.23 L242.98 228.15 L243.61 226.09 L244.25 224.07 L244.88 222.09 L245.52 220.16 L246.15 218.31 L246.79 216.53 L247.42 214.85 L248.06 213.26 L248.69 211.78 L249.33 210.41 L249.96 209.16 L250.60 208.05 L251.23 207.07 L251.87 206.23 L252.50 205.54 L253.14 204.99 L253.77 204.60 L254.41 204.37 L255.05 204.29 L255.68 204.31 L256.32 204.36 L256.95 204.45 L257.59 204.57 L258.22 204.73 L258.86 204.92 L259.49 205.14 L260.13 205.40 L260.76 205.69 L261.40 206.02 L262.03 206.38 L262.67 206.77 L263.30 207.19 L263.94 207.64 L264.57 208.13 L265.21 208.64 L265.84 209.19 L266.48 209.76 L267.12 210.36 L267.75 210.99 L268.39 211.65 L269.02 212.33 L269.66 213.03 L270.29 213.76 L270.93 214.52 L271.56 215.29 L272.20 216.09 L272.83 216.91 L273.47 217.74 L274.10 218.60 L274.74 219.47 L275.37 220.36 L276.01 221.26 L276.64 222.17 L277.28 223.10 L277.91 224.04 L278.55 224.99 L279.18 225.95 L279.82 226.92 L280.46 227.89 L281.09 228.87 L281.73 229.86 L282.36 230.85 L283.00 231.84 L283.63 232.82 L284.27 233.81 L284.90 234.80 L285.54 235.79 L286.17 236.77 L286.81 237.74 L287.44 238.71 L288.08 239.67 L288.71 240.62 L289.35 241.56 L289.98 242.49 L290.62 243.40 L291.25 244.30 L291.89 245.19 L292.52 246.06 L293.16 246.92 L293.80 247.75 L294.43 248.57 L295.07 249.37 L295.70 250.14 L296.34 250.90 L296.97 251.63 L297.61 252.33 L298.24 253.01 L298.88 253.67 L299.51 254.30 L300.15 254.90 L300.78 255.47 L301.42 256.02 L302.05 256.53 L302.69 257.02 L303.32 257.47 L303.96 257.89 L304.59 258.28 L305.23 258.64 L305.87 258.97 L306.50 259.26 L307.14 259.52 L307.77 259.74 L308.41 259.93 L309.04 260.09 L309.68 260.21 L310.31 260.30 L310.95 260.35 L311.58 260.37 L312.22 260.34 L312.85 260.26 L313.49 260.12 L314.12 259.93 L314.76 259.68 L315.39 259.39 L316.03 259.04 L316.66 258.64 L317.30 258.19 L317.93 257.69 L318.57 257.15 L319.21 256.57 L319.84 255.95 L320.48 255.29 L321.11 254.59 L321.75 253.86 L322.38 253.10 L323.02 252.32 L323.65 251.51 L324.29 250.68 L324.92 249.84 L325.56 248.98 L326.19 248.11 L326.83 247.23 L327.46 246.35 L328.10 245.47 L328.73 244.59 L329.37 243.72 L330.00 242.86 L330.64 242.02 L331.28 241.19 L331.91 240.38 L332.55 239.60 L333.18 238.84 L333.82 238.11 L334.45 237.41 L335.09 236.75 L335.72 236.13 L336.36 235.55 L336.99 235.01 L337.63 234.51 L338.26 234.06 L338.90 233.66 L339.53 233.31 L340.17 233.02 L340.80 232.77 L341.44 232.58 L342.07 232.44 L342.71 232.36 L343.35 232.33" stroke="#00ff00" stroke-width="1.5"/>
<path d="M25.72 232.33 L26.36 232.33 L26.99 232.33 L27.63 232.33 L28.26 232.33 L28.90 232.33 L29.53 232.33 L30.17 232.33 L30.80 232.33 L31.44 232.33 L32.07 232.33 L32.71 232.33 L33.34 232.33 L33.98 232.33 L34.61 232.33 L35.25 232.33 L35.88 232.33 L36.52 232.33 L37.15 232.33 L37.79 232.33 L38.42 232.33 L39.06 232.33 L39.70 232.33 L40.33 232.33 L40.97 232.33 L41.60 232.33 L42.24 232.33 L42.87 232.33 L43.51 232.33 L44.14 232.33 L44.78 232.33 L45.41 232.33 L46.05 232.33 L46.68 232.33 L47.32 232.33 L47.95 232.33 L48.59 232.33 L49.22 232.33 L49.86 232.33 L50.49 232.33 L51.13 232.33 L51.77 232.33 L52.40 232.33 L53.04 232.33 L53.67 232.33 L54.31 232.33 L54.94 232.33 L55.58 232.33 L56.21 232.33 L56.85 232.33 L57.48 232.33 L58.12 232.33 L58.75 232.33 L59.39 232.33 L60.02 232.33 L60.66 232.33 L61.29 232.33 L61.93 232.33 L62.56 232.33 L63.20 232.33 L63.84 232.33 L64.47 232.33 L65.11 232.33 L65.74 232.33 L66.38 232.33 L67.01 232.33 L67.65 232.33 L68.28 232.33 L68.92 232.33 L69.55 232.33 L70.19 232.33 L70.82 232.33 L71.46 232.33 L72.09 232.33 L72.73 232.33 L73.36 232.33 L74.00 232.33 L74.63 232.33 L75.27 232.33 L75.90 232.33 L76.54 232.33 L77.18 232.33 L77.81 232.33 L78.45 232.33 L79.08 232.33 L79.72 232.33 L80.35 232.33 L80.99 232.33 L81.62 232.33 L82.26 232.33 L82.89 232.33 L83.53 232.33 L84.16 232.33 L84.80 232.33 L85.43 232.33 L86.07 232.33 L86.70 232.33 L87.34 232.33 L87.97 232.33 L88.61 232.33 L89.25 204.29 L89.88 232.33 L90.52 232.33 L91.15 232.33 L91.79 232.33 L92.42 232.33 L93.06 232.33 L93.69 232.33 L94.33 232.33 L94.96 232.33 L95.60 232.33 L96.23 232.33 L96.87 232.33 L97.50 232.33 L98.14 232.33 L98.77 232.33 L99.41 232.33 L100.04 232.33 L100.68 232.33 L101.31 232.33 L101.95 232.33 L102.59 232.33 L103.22 232.33 L103.86 232.33 L104.49 232.33 L105.13 232.33 L105.76 232.33 L106.40 232.33 L107.03 232.33 L107.67 232.33 L108.30 232.33 L108.94 232.33 L109.57 232.33 L110.21 232.33 L110.84 260.37 L111.48 232.33 L112.11 232.33 L112.75 232.33 L113.38 232.33 L114.02 232.33 L114.66 232.33 L115.29 232.33 L115.93 232.33 L116.56 232.33 L117.20 232.33 L117.83 232.33 L118.47 232.33 L119.10 232.33 L119.74 232.33 L120.37 232.33 L121.01 232.33 L121.64 232.33 L122.28 232.33 L122.91 232.33 L123.55 232.33 L124.18 232.33 L124.82 232.33 L125.45 232.33 L126.09 232.33 L126.72 232.33 L127.36 232.33 L128.00 232.33 L128.63 232.33 L129.27 232.33 L129.90 232.33 L130.54 232.33 L131.17 232.33 L131.81 232.33 L132.44 232.33 L133.08 232.33 L133.71 232.33 L134.35 232.33 L134.98 232.33 L135.62 232.33 L136.25 232.33 L136.89 232.33 L137.52 232.33 L138.16 232.33 L138.79 232.33 L139.43 232.33 L140.06 232.33 L140.70 232.33 L141.34 232.33 L141.97 232.33 L142.61 232.33 L143.24 232.33 L143.88 232.33 L144.51 232.33 L145.15 232.33 L145.78 232.33 L146.42 232.33 L147.05 232.33 L147.69 232.33 L148.32 232.33 L148.96 232.33 L149.59 232.33 L150.23 232.33 L150.86 232.33 L151.50 232.33 L152.13 232.33 L152.77 232.33 L153.41 232.33 L154.04 232.33 L154.68 232.33 L155.31 232.33 L155.95 232.33 L156.58 232.33 L157.22 232.33 L157.85 232.33 L158.49 232.33 L159.12 232.33 L159.76 232.33 L160.39 232.33 L161.03 232.33 L161.66 232.33 L162.30 232.33 L162.93 232.33 L163.57 232.33 L164.20 232.33 L164.84 232.33 L165.47 204.29 L166.11 232.33 L166.75 232.33 L167.38 232.33 L168.02 232.33 L168.65 232.33 L169.29 232.33 L169.92 232.33 L170.56 232.33 L171.19 232.33 L171.83 232.33 L172.46 232.33 L173.10 232.33 L173.73 232.33 L174.37 232.33 L175.00 232.33 L175.64 232.33 L176.27 232.33 L176.91 232.33 L177.54 232.33 L178.18 232.33 L178.82 232.33 L179.45 232.33 L180.09 232.33 L180.72 232.33 L181.36 232.33 L181.99 232.33 L182.63 232.33 L183.26 232.33 L183.90 232.33 L184.53 232.33 L185.17 232.33 L185.80 232.33 L186.44 232.33 L187.07 232.33 L187.71 232.33 L188.34 232.33 L188.98 232.33 L189.61 232.33 L190.25 232.33 L190.88 232.33 L191.52 232.33 L192.16 232.33 L192.79 232.33 L193.43 232.33 L194.06 232.33 L194.70 232.33 L195.33 232.33 L195.97 232.33 L196.60 232.33 L197.24 232.33 L197.87 232.33 L198.51 232.33 L199.14 232.33 L199.78 232.33 L200.41 232.33 L201.05 232.33 L201.68 232.33 L202.32 232.33 L202.95 232.33 L203.59 232.33 L204.23 232.33 L204.86 232.33 L205.50 232.33 L206.13 232.33 L206.77 232.33 L207.40 232.33 L208.04 232.33 L208.67 232.33 L209.31 232.33 L209.94 232.33 L210.58 232.33 L211.21 232.33 L211.85 232.33 L212.48 232.33 L213.12 232.33 L213.75 232.33 L214.39 232.33 L215.02 232.33 L215.66 232.33 L216.29 232.33 L216.93 232.33 L217.57 232.33 L218.20 232.33 L218.84 232.33 L219.47 232.33 L220.11 232.33 L220.74 232.33 L221.38 232.33 L222.01 232.33 L222.65 232.33 L223.28 232.33 L223.92 232.33 L224.55 232.33 L225.19 232.33 L225.82 232.33 L226.46 232.33 L227.09 232.33 L227.73 232.33 L228.36 260.37 L229.00 232.33 L229.64 232.33 L230.27 232.33 L230.91 232.33 L231.54 232.33 L232.18 232.33 L232.81 232.33 L233.45 232.33 L234.08 232.33 L234.72 232.33 L235.35 232.33 L235.99 232.33 L236.62 232.33 L237.26 232.33 L237.89 232.33 L238.53 232.33 L239.16 232.33 L239.80 232.33 L240.43 232.33 L241.07 232.33 L241.70 232.33 L242.34 232.33 L242.98 232.33 L243.61 232.33 L244.25 232.33 L244.88 232.33 L245.52 232.33 L246.15 232.33 L246.79 232.33 L247.42 232.33 L248.06 232.33 L248.69 232.33 L249.33 232.33 L249.96 232.33 L250.60 232.33 L251.23 232.33 L251.87 232.33 L252.50 232.33 L253.14 232.33 L253.77 232.33 L254.41 232.33 L255.05 204.29 L255.68 232.33 L256.32 232.33 L256.95 232.33 L257.59 232.33 L258.22 232.33 L258.86 232.33 L259.49 232.33 L260.13 232.33 L260.76 232.33 L261.40 232.33 L262.03 232.33 L262.67 232.33 L263.30 232.33 L263.94 232.33 L264.57 232.33 L265.21 232.33 L265.84 232.33 L266.48 232.33 L267.12 232.33 L267.75 232.33 L268.39 232.33 L269.02 232.33 L269.66 232.33 L270.29 232.33 L270.93 232.33 L271.56 232.33 L272.20 232.33 L272.83 232.33 L273.47 232.33 L274.10 232.33 L274.74 232.33 L275.37 232.33 L276.01 232.33 L276.64 232.33 L277.28 232.33 L277.91 232.33 L278.55 232.33 L279.18 232.33 L279.82 232.33 L280.46 232.33 L281.09 232.33 L281.73 232.33 L282.36 232.33 L283.00 232.33 L283.63 232.33 L284.27 232.33 L284.90 232.33 L285.54 232.33 L286.17 232.33 L286.81 232.33 L287.44 232.33 L288.08 232.33 L288.71 232.33 L289.35 232.33 L289.98 232.33 L290.62 232.33 L291.25 232.33 L291.89 232.33 L292.52 232.33 L293.16 232.33 L293.80 232.33 L294.43 232.33 L295.07 232.33 L295.70 232.33 L296.34 232.33 L296.97 232.33 L297.61 232.33 L298.24 232.33 L298.88 232.33 L299.51 232.33 L300.15 232.33 L300.78 232.33 L301.42 232.33 L302.05 232.33 L302.69 232.33 L303.32 232.33 L303.96 232.33 L304.59 232.33 L305.23 232.33 L305.87 232.33 L306.50 232.33 L307.14 232.33 L307.77 232.33 L308.41 232.33 L309.04 232.33 L309.68 232.33 L310.31 232.33 L310.95 232.33 L311.58 260.37 L312.22 232.33 L312.85 232.33 L313.49 232.33 L314.12 232.33 L314.76 232.33 L315.39 232.33 L316.03 232.33 L316.66 232.33 L317.30 232.33 L317.93 232.33 L318.57 232.33 L319.21 232.33 L319.84 232.33 L320.48 232.33 L321.11 232.33 L321.75 232.33 L322.38 232.33 L323.02 232.33 L323.65 232.33 L324.29 232.33 L324.92 232.33 L325.56 232.33 L326.19 232.33 L326.83 232.33 L327.46 232.33 L328.10 232.33 L328.73 232.33 L329.37 232.33 L330.00 232.33 L330.64 232.33 L331.28 232.33 L331.91 232.33 L332.55 232.33 L333.18 232.33 L333.82 232.33 L334.45 232.33 L335.09 232.33 L335.72 232.33 L336.36 232.33 L336.99 232.33 L337.63 232.33 L338.26 232.33 L338.90 232.33 L339.53 232.33 L340.17 232.33 L340.80 232.33 L341.44 232.33 L342.07 232.33 L342.71 232.33 L343.35 232.33" stroke="#3a3a3a" stroke-width="1.0"/>
</g>
<circle cx="25.72" cy="232.33" r="3.00" stroke="#000" stroke-width="1.20" fill="none"/>
<circle cx="89.25" cy="204.29" r="3.10" stroke="#000" stroke-width="1.80" fill="none"/>
<circle cx="110.84" cy="260.37" r="3.10" stroke="#000" stroke-width="1.80" fill="none"/>
<circle cx="165.47" cy="204.29" r="3.10" stroke="#000" stroke-width="1.80" fill="none"/>
<circle cx="228.36" cy="260.37" r="3.10" stroke="#000" stroke-width="1.80" fill="none"/>
<circle cx="255.05" cy="204.29" r="3.10" stroke="#000" stroke-width="1.80" fill="none"/>
<circle cx="311.58" cy="260.37" r="3.10" stroke="#000" stroke-width="1.80" fill="none"/>
<circle cx="343.35" cy="232.33" r="3.00" stroke="#000" stroke-width="1.20" fill="none"/>
<text x="57.08" y="304.50" class="tk" text-anchor="middle">50</text>
<text x="88.84" y="304.50" class="tk" text-anchor="middle">100</text>
<text x="120.61" y="304.50" class="tk" text-anchor="middle">150</text>
<text x="152.37" y="304.50" class="tk" text-anchor="middle">200</text>
<text x="184.13" y="304.50" class="tk" text-anchor="middle">250</text>
<text x="215.89" y="304.50" class="tk" text-anchor="middle">300</text>
<text x="247.66" y="304.50" class="tk" text-anchor="middle">350</text>
<text x="279.42" y="304.50" class="tk" text-anchor="middle">400</text>
<text x="311.18" y="304.50" class="tk" text-anchor="middle">450</text>
<text x="342.95" y="304.50" class="tk" text-anchor="middle">500</text>
<text x="21.90" y="292.21" class="tk" text-anchor="end">-2</text>
<text x="21.90" y="264.17" class="tk" text-anchor="end">-1</text>
<text x="21.90" y="236.13" class="tk" text-anchor="end">0</text>
<text x="21.90" y="208.09" class="tk" text-anchor="end">1</text>
<text x="21.90" y="180.05" class="tk" text-anchor="end">2</text>
<text class="ti" text-anchor="middle" transform="translate(185.00 170.60) scale(1.080 1)">Step (3)</text>
<text class="lb" text-anchor="middle" transform="translate(185.50 318.40) scale(1.080 1)">Time (ms)</text>
<text class="lb" text-anchor="middle" transform="translate(8.10 233.20) rotate(-90) scale(1.080 1)">Amp.</text>
</g>
<rect x="112.60" y="275.70" width="230.90" height="14.60" fill="#fff"/><path d="M112.60 275.10V290.90M343.50 275.10V290.90" stroke="#7c7c7c" stroke-width="1" fill="none"/><path d="M112.10 275.70H344.00M112.10 290.30H344.00" stroke="#7a7a7a" stroke-width="1.2" fill="none"/>
<path d="M115.8 282.70H137.3" stroke="#00ff00" stroke-width="1.3"/>
<circle cx="261.40" cy="282.40" r="3.00" stroke="#000" stroke-width="1.25" fill="none"/>
<text x="139.40" y="285.80" class="lg">smoothed apparent polarity</text>
<text x="274.50" y="285.80" class="lg">apparent polarity</text>
<g id="ax4">
<g stroke="#262626" stroke-opacity="0.12" stroke-width="1" fill="none"><path d="M431.96 174.70V290.30"/><path d="M463.66 174.70V290.30"/><path d="M495.36 174.70V290.30"/><path d="M527.06 174.70V290.30"/><path d="M558.75 174.70V290.30"/><path d="M590.45 174.70V290.30"/><path d="M622.15 174.70V290.30"/><path d="M653.85 174.70V290.30"/><path d="M685.55 174.70V290.30"/><path d="M401.00 270.95H718.00"/><path d="M401.00 232.60H718.00"/><path d="M401.00 194.25H718.00"/></g>
<path d="M431.96 174.70v3.2M431.96 290.30v-3.2M463.66 174.70v3.2M463.66 290.30v-3.2M495.36 174.70v3.2M495.36 290.30v-3.2M527.06 174.70v3.2M527.06 290.30v-3.2M558.75 174.70v3.2M558.75 290.30v-3.2M590.45 174.70v3.2M590.45 290.30v-3.2M622.15 174.70v3.2M622.15 290.30v-3.2M653.85 174.70v3.2M653.85 290.30v-3.2M685.55 174.70v3.2M685.55 290.30v-3.2M401.00 270.95h3.2M718.00 270.95h-3.2M401.00 232.60h3.2M718.00 232.60h-3.2M401.00 194.25h3.2M718.00 194.25h-3.2" stroke="#5a5a5a" stroke-width="1" fill="none"/>
<path d="M401.00 174.10V290.90M718.00 174.10V290.90" stroke="#7c7c7c" stroke-width="1" fill="none"/><path d="M400.50 174.70H718.50M400.50 290.30H718.50" stroke="#7a7a7a" stroke-width="1.2" fill="none"/>
<g clip-path="url(#c4)" fill="none" stroke-linejoin="round">
<path d="M400.26 232.60 L400.89 232.60 L401.53 232.60 L402.16 232.60 L402.80 232.60 L403.43 232.60 L404.06 232.60 L404.70 232.60 L405.33 232.60 L405.97 232.60 L406.60 232.60 L407.23 232.60 L407.87 232.60 L408.50 232.60 L409.14 232.60 L409.77 232.60 L410.40 232.60 L411.04 232.60 L411.67 232.60 L412.31 232.60 L412.94 232.60 L413.57 232.60 L414.21 232.60 L414.84 232.60 L415.48 232.60 L416.11 232.60 L416.74 232.60 L417.38 232.60 L418.01 232.60 L418.65 232.60 L419.28 232.60 L419.91 232.60 L420.55 232.60 L421.18 232.60 L421.82 232.60 L422.45 232.60 L423.08 232.60 L423.72 232.60 L424.35 232.60 L424.99 232.60 L425.62 232.60 L426.25 232.60 L426.89 232.60 L427.52 232.60 L428.16 232.60 L428.79 232.61 L429.42 232.61 L430.06 232.61 L430.69 232.62 L431.33 232.63 L431.96 232.64 L432.59 232.65 L433.23 232.67 L433.86 232.70 L434.49 232.74 L435.13 232.79 L435.76 232.86 L436.40 232.95 L437.03 233.07 L437.66 233.22 L438.30 233.41 L438.93 233.64 L439.57 233.93 L440.20 234.29 L440.83 234.72 L441.47 235.24 L442.10 235.85 L442.74 236.56 L443.37 237.37 L444.00 238.29 L444.64 239.31 L445.27 240.42 L445.91 241.61 L446.54 242.86 L447.17 244.13 L447.81 245.40 L448.44 246.60 L449.08 247.69 L449.71 248.61 L450.34 249.29 L450.98 249.66 L451.61 249.66 L452.25 249.22 L452.88 248.29 L453.51 246.84 L454.15 244.82 L454.78 242.24 L455.42 239.12 L456.05 235.49 L456.68 231.43 L457.32 227.01 L457.95 222.35 L458.59 217.58 L459.22 212.85 L459.85 208.29 L460.49 204.07 L461.12 200.31 L461.76 197.15 L462.39 194.69 L463.02 193.00 L463.66 192.14 L464.29 192.10 L464.93 192.88 L465.56 194.40 L466.19 196.60 L466.83 199.35 L467.46 202.53 L468.10 206.01 L468.73 209.66 L469.36 213.33 L470.00 216.92 L470.63 220.34 L471.27 223.50 L471.90 226.37 L472.53 228.93 L473.17 231.20 L473.80 233.21 L474.44 235.00 L475.07 236.66 L475.70 238.26 L476.34 239.86 L476.97 241.54 L477.61 243.35 L478.24 245.31 L478.87 247.45 L479.51 249.75 L480.14 252.17 L480.78 254.65 L481.41 257.11 L482.04 259.47 L482.68 261.62 L483.31 263.45 L483.95 264.87 L484.58 265.80 L485.21 266.17 L485.85 265.92 L486.48 265.04 L487.12 263.54 L487.75 261.44 L488.38 258.81 L489.02 255.72 L489.65 252.27 L490.29 248.57 L490.92 244.74 L491.55 240.89 L492.19 237.14 L492.82 233.59 L493.46 230.32 L494.09 227.41 L494.72 224.90 L495.36 222.84 L495.99 221.22 L496.62 220.05 L497.26 219.31 L497.89 218.96 L498.53 218.96 L499.16 219.25 L499.79 219.79 L500.43 220.53 L501.06 221.40 L501.70 222.36 L502.33 223.37 L502.96 224.39 L503.60 225.39 L504.23 226.35 L504.87 227.24 L505.50 228.06 L506.13 228.79 L506.77 229.45 L507.40 230.02 L508.04 230.51 L508.67 230.94 L509.30 231.30 L509.94 231.61 L510.57 231.87 L511.21 232.09 L511.84 232.29 L512.47 232.47 L513.11 232.65 L513.74 232.82 L514.38 233.01 L515.01 233.22 L515.64 233.45 L516.28 233.72 L516.91 234.04 L517.55 234.42 L518.18 234.85 L518.81 235.36 L519.45 235.93 L520.08 236.57 L520.72 237.29 L521.35 238.07 L521.98 238.91 L522.62 239.78 L523.25 240.67 L523.89 241.56 L524.52 242.40 L525.15 243.16 L525.79 243.81 L526.42 244.28 L527.06 244.54 L527.69 244.54 L528.32 244.24 L528.96 243.60 L529.59 242.58 L530.23 241.18 L530.86 239.38 L531.49 237.21 L532.13 234.68 L532.76 231.86 L533.40 228.79 L534.03 225.57 L534.66 222.29 L535.30 219.04 L535.93 215.93 L536.57 213.08 L537.20 210.58 L537.83 208.53 L538.47 207.01 L539.10 206.07 L539.74 205.75 L540.37 206.07 L541.00 207.01 L541.64 208.53 L542.27 210.58 L542.91 213.08 L543.54 215.93 L544.17 219.04 L544.81 222.29 L545.44 225.57 L546.08 228.79 L546.71 231.86 L547.34 234.68 L547.98 237.21 L548.61 239.38 L549.25 241.18 L549.88 242.58 L550.51 243.60 L551.15 244.24 L551.78 244.54 L552.42 244.54 L553.05 244.28 L553.68 243.81 L554.32 243.17 L554.95 242.40 L555.59 241.56 L556.22 240.67 L556.85 239.78 L557.49 238.91 L558.12 238.07 L558.75 237.29 L559.39 236.58 L560.02 235.94 L560.66 235.37 L561.29 234.87 L561.92 234.45 L562.56 234.09 L563.19 233.78 L563.83 233.53 L564.46 233.33 L565.09 233.16 L565.73 233.03 L566.36 232.93 L567.00 232.85 L567.63 232.78 L568.26 232.73 L568.90 232.69 L569.53 232.66 L570.17 232.64 L570.80 232.62 L571.43 232.60 L572.07 232.59 L572.70 232.57 L573.34 232.55 L573.97 232.52 L574.60 232.49 L575.24 232.45 L575.87 232.39 L576.51 232.32 L577.14 232.23 L577.77 232.12 L578.41 231.98 L579.04 231.80 L579.68 231.59 L580.31 231.33 L580.94 231.02 L581.58 230.65 L582.21 230.23 L582.85 229.74 L583.48 229.19 L584.11 228.58 L584.75 227.91 L585.38 227.19 L586.02 226.44 L586.65 225.68 L587.28 224.92 L587.92 224.20 L588.55 223.54 L589.19 222.99 L589.82 222.59 L590.45 222.36 L591.09 222.36 L591.72 222.62 L592.36 223.18 L592.99 224.05 L593.62 225.25 L594.26 226.79 L594.89 228.66 L595.53 230.82 L596.16 233.25 L596.79 235.88 L597.43 238.65 L598.06 241.47 L598.70 244.27 L599.33 246.95 L599.96 249.42 L600.60 251.59 L601.23 253.39 L601.87 254.75 L602.50 255.62 L603.13 255.97 L603.77 255.81 L604.40 255.13 L605.04 253.99 L605.67 252.43 L606.30 250.52 L606.94 248.35 L607.57 246.01 L608.21 243.59 L608.84 241.18 L609.47 238.88 L610.11 236.76 L610.74 234.87 L611.38 233.27 L612.01 231.98 L612.64 231.01 L613.28 230.35 L613.91 229.97 L614.55 229.83 L615.18 229.87 L615.81 230.04 L616.45 230.26 L617.08 230.48 L617.72 230.61 L618.35 230.61 L618.98 230.43 L619.62 230.04 L620.25 229.41 L620.89 228.53 L621.52 227.43 L622.15 226.13 L622.79 224.67 L623.42 223.11 L624.05 221.51 L624.69 219.94 L625.32 218.47 L625.96 217.17 L626.59 216.11 L627.22 215.35 L627.86 214.92 L628.49 214.86 L629.13 215.18 L629.76 215.87 L630.39 216.92 L631.03 218.29 L631.66 219.93 L632.30 221.80 L632.93 223.82 L633.56 225.92 L634.20 228.05 L634.83 230.13 L635.47 232.11 L636.10 233.93 L636.73 235.55 L637.37 236.95 L638.00 238.11 L638.64 239.01 L639.27 239.67 L639.90 240.08 L640.54 240.28 L641.17 240.28 L641.81 240.11 L642.44 239.80 L643.07 239.39 L643.71 238.90 L644.34 238.36 L644.98 237.79 L645.61 237.22 L646.24 236.65 L646.88 236.12 L647.51 235.62 L648.15 235.16 L648.78 234.75 L649.41 234.38 L650.05 234.06 L650.68 233.79 L651.32 233.55 L651.95 233.35 L652.58 233.19 L653.22 233.06 L653.85 232.94 L654.49 232.85 L655.12 232.77 L655.75 232.71 L656.39 232.65 L657.02 232.59 L657.66 232.53 L658.29 232.47 L658.92 232.40 L659.56 232.31 L660.19 232.21 L660.83 232.09 L661.46 231.94 L662.09 231.76 L662.73 231.54 L663.36 231.28 L664.00 230.98 L664.63 230.62 L665.26 230.22 L665.90 229.76 L666.53 229.25 L667.17 228.69 L667.80 228.09 L668.43 227.47 L669.07 226.83 L669.70 226.20 L670.34 225.60 L670.97 225.05 L671.60 224.59 L672.24 224.25 L672.87 224.07 L673.51 224.07 L674.14 224.29 L674.77 224.75 L675.41 225.47 L676.04 226.47 L676.68 227.76 L677.31 229.31 L677.94 231.11 L678.58 233.13 L679.21 235.32 L679.85 237.62 L680.48 239.97 L681.11 242.29 L681.75 244.51 L682.38 246.54 L683.02 248.33 L683.65 249.79 L684.28 250.88 L684.92 251.55 L685.55 251.78 L686.18 251.55 L686.82 250.88 L687.45 249.79 L688.09 248.33 L688.72 246.54 L689.35 244.51 L689.99 242.29 L690.62 239.97 L691.26 237.62 L691.89 235.32 L692.52 233.13 L693.16 231.11 L693.79 229.31 L694.43 227.76 L695.06 226.47 L695.69 225.47 L696.33 224.75 L696.96 224.29 L697.60 224.07 L698.23 224.07 L698.86 224.25 L699.50 224.59 L700.13 225.05 L700.77 225.60 L701.40 226.20 L702.03 226.83 L702.67 227.47 L703.30 228.09 L703.94 228.69 L704.57 229.25 L705.20 229.76 L705.84 230.22 L706.47 230.62 L707.11 230.98 L707.74 231.28 L708.37 231.54 L709.01 231.75 L709.64 231.93 L710.28 232.08 L710.91 232.20 L711.54 232.29 L712.18 232.37 L712.81 232.42 L713.45 232.47 L714.08 232.50 L714.71 232.53 L715.35 232.55 L715.98 232.56 L716.62 232.57 L717.25 232.58" stroke="#000" stroke-width="1.2"/>
<path d="M400.26 232.60 L400.89 232.60 L401.53 232.60 L402.16 232.60 L402.80 232.60 L403.43 232.60 L404.06 232.60 L404.70 232.60 L405.33 232.60 L405.97 232.60 L406.60 232.60 L407.23 232.60 L407.87 232.60 L408.50 232.60 L409.14 232.60 L409.77 232.60 L410.40 232.60 L411.04 232.60 L411.67 232.60 L412.31 232.60 L412.94 232.60 L413.57 232.60 L414.21 232.60 L414.84 232.60 L415.48 232.60 L416.11 232.60 L416.74 232.60 L417.38 232.60 L418.01 232.60 L418.65 232.60 L419.28 232.60 L419.91 232.60 L420.55 232.60 L421.18 232.60 L421.82 232.60 L422.45 232.60 L423.08 232.60 L423.72 232.60 L424.35 232.60 L424.99 232.60 L425.62 232.60 L426.25 232.60 L426.89 232.60 L427.52 232.60 L428.16 232.60 L428.79 232.60 L429.42 232.60 L430.06 232.60 L430.69 232.60 L431.33 232.60 L431.96 232.60 L432.59 232.60 L433.23 232.60 L433.86 232.60 L434.49 232.60 L435.13 232.60 L435.76 232.60 L436.40 232.60 L437.03 232.60 L437.66 232.60 L438.30 232.60 L438.93 232.60 L439.57 232.60 L440.20 232.60 L440.83 232.60 L441.47 232.60 L442.10 232.60 L442.74 232.60 L443.37 232.60 L444.00 232.60 L444.64 232.60 L445.27 232.60 L445.91 232.60 L446.54 232.60 L447.17 232.60 L447.81 232.60 L448.44 232.60 L449.08 232.60 L449.71 232.60 L450.34 232.60 L450.98 232.60 L451.61 232.60 L452.25 232.60 L452.88 232.60 L453.51 232.60 L454.15 232.60 L454.78 232.60 L455.42 232.60 L456.05 232.60 L456.68 232.60 L457.32 232.60 L457.95 232.60 L458.59 232.60 L459.22 232.60 L459.85 232.60 L460.49 232.60 L461.12 232.60 L461.76 232.60 L462.39 232.60 L463.02 232.60 L463.66 194.25 L464.29 232.60 L464.93 232.60 L465.56 232.60 L466.19 232.60 L466.83 232.60 L467.46 232.60 L468.10 232.60 L468.73 232.60 L469.36 232.60 L470.00 232.60 L470.63 232.60 L471.27 232.60 L471.90 232.60 L472.53 232.60 L473.17 232.60 L473.80 232.60 L474.44 232.60 L475.07 232.60 L475.70 232.60 L476.34 232.60 L476.97 232.60 L477.61 232.60 L478.24 232.60 L478.87 232.60 L479.51 232.60 L480.14 232.60 L480.78 232.60 L481.41 232.60 L482.04 232.60 L482.68 232.60 L483.31 232.60 L483.95 232.60 L484.58 232.60 L485.21 232.60 L485.85 263.28 L486.48 232.60 L487.12 232.60 L487.75 232.60 L488.38 232.60 L489.02 232.60 L489.65 232.60 L490.29 232.60 L490.92 232.60 L491.55 232.60 L492.19 232.60 L492.82 232.60 L493.46 232.60 L494.09 232.60 L494.72 232.60 L495.36 232.60 L495.99 232.60 L496.62 232.60 L497.26 232.60 L497.89 232.60 L498.53 232.60 L499.16 232.60 L499.79 232.60 L500.43 232.60 L501.06 232.60 L501.70 232.60 L502.33 232.60 L502.96 232.60 L503.60 232.60 L504.23 232.60 L504.87 232.60 L505.50 232.60 L506.13 232.60 L506.77 232.60 L507.40 232.60 L508.04 232.60 L508.67 232.60 L509.30 232.60 L509.94 232.60 L510.57 232.60 L511.21 232.60 L511.84 232.60 L512.47 232.60 L513.11 232.60 L513.74 232.60 L514.38 232.60 L515.01 232.60 L515.64 232.60 L516.28 232.60 L516.91 232.60 L517.55 232.60 L518.18 232.60 L518.81 232.60 L519.45 232.60 L520.08 232.60 L520.72 232.60 L521.35 232.60 L521.98 232.60 L522.62 232.60 L523.25 232.60 L523.89 232.60 L524.52 232.60 L525.15 232.60 L525.79 232.60 L526.42 232.60 L527.06 232.60 L527.69 232.60 L528.32 232.60 L528.96 232.60 L529.59 232.60 L530.23 232.60 L530.86 232.60 L531.49 232.60 L532.13 232.60 L532.76 232.60 L533.40 232.60 L534.03 232.60 L534.66 232.60 L535.30 232.60 L535.93 232.60 L536.57 232.60 L537.20 232.60 L537.83 232.60 L538.47 232.60 L539.10 232.60 L539.74 205.75 L540.37 232.60 L541.00 232.60 L541.64 232.60 L542.27 232.60 L542.91 232.60 L543.54 232.60 L544.17 232.60 L544.81 232.60 L545.44 232.60 L546.08 232.60 L546.71 232.60 L547.34 232.60 L547.98 232.60 L548.61 232.60 L549.25 232.60 L549.88 232.60 L550.51 232.60 L551.15 232.60 L551.78 232.60 L552.42 232.60 L553.05 232.60 L553.68 232.60 L554.32 232.60 L554.95 232.60 L555.59 232.60 L556.22 232.60 L556.85 232.60 L557.49 232.60 L558.12 232.60 L558.75 232.60 L559.39 232.60 L560.02 232.60 L560.66 232.60 L561.29 232.60 L561.92 232.60 L562.56 232.60 L563.19 232.60 L563.83 232.60 L564.46 232.60 L565.09 232.60 L565.73 232.60 L566.36 232.60 L567.00 232.60 L567.63 232.60 L568.26 232.60 L568.90 232.60 L569.53 232.60 L570.17 232.60 L570.80 232.60 L571.43 232.60 L572.07 232.60 L572.70 232.60 L573.34 232.60 L573.97 232.60 L574.60 232.60 L575.24 232.60 L575.87 232.60 L576.51 232.60 L577.14 232.60 L577.77 232.60 L578.41 232.60 L579.04 232.60 L579.68 232.60 L580.31 232.60 L580.94 232.60 L581.58 232.60 L582.21 232.60 L582.85 232.60 L583.48 232.60 L584.11 232.60 L584.75 232.60 L585.38 232.60 L586.02 232.60 L586.65 232.60 L587.28 232.60 L587.92 232.60 L588.55 232.60 L589.19 232.60 L589.82 232.60 L590.45 232.60 L591.09 232.60 L591.72 232.60 L592.36 232.60 L592.99 232.60 L593.62 232.60 L594.26 232.60 L594.89 232.60 L595.53 232.60 L596.16 232.60 L596.79 232.60 L597.43 232.60 L598.06 232.60 L598.70 232.60 L599.33 232.60 L599.96 232.60 L600.60 232.60 L601.23 232.60 L601.87 232.60 L602.50 232.60 L603.13 255.61 L603.77 232.60 L604.40 232.60 L605.04 232.60 L605.67 232.60 L606.30 232.60 L606.94 232.60 L607.57 232.60 L608.21 232.60 L608.84 232.60 L609.47 232.60 L610.11 232.60 L610.74 232.60 L611.38 232.60 L612.01 232.60 L612.64 232.60 L613.28 232.60 L613.91 232.60 L614.55 232.60 L615.18 232.60 L615.81 232.60 L616.45 232.60 L617.08 232.60 L617.72 232.60 L618.35 232.60 L618.98 232.60 L619.62 232.60 L620.25 232.60 L620.89 232.60 L621.52 232.60 L622.15 232.60 L622.79 232.60 L623.42 232.60 L624.05 232.60 L624.69 232.60 L625.32 232.60 L625.96 232.60 L626.59 232.60 L627.22 232.60 L627.86 232.60 L628.49 215.34 L629.13 232.60 L629.76 232.60 L630.39 232.60 L631.03 232.60 L631.66 232.60 L632.30 232.60 L632.93 232.60 L633.56 232.60 L634.20 232.60 L634.83 232.60 L635.47 232.60 L636.10 232.60 L636.73 232.60 L637.37 232.60 L638.00 232.60 L638.64 232.60 L639.27 232.60 L639.90 232.60 L640.54 232.60 L641.17 232.60 L641.81 232.60 L642.44 232.60 L643.07 232.60 L643.71 232.60 L644.34 232.60 L644.98 232.60 L645.61 232.60 L646.24 232.60 L646.88 232.60 L647.51 232.60 L648.15 232.60 L648.78 232.60 L649.41 232.60 L650.05 232.60 L650.68 232.60 L651.32 232.60 L651.95 232.60 L652.58 232.60 L653.22 232.60 L653.85 232.60 L654.49 232.60 L655.12 232.60 L655.75 232.60 L656.39 232.60 L657.02 232.60 L657.66 232.60 L658.29 232.60 L658.92 232.60 L659.56 232.60 L660.19 232.60 L660.83 232.60 L661.46 232.60 L662.09 232.60 L662.73 232.60 L663.36 232.60 L664.00 232.60 L664.63 232.60 L665.26 232.60 L665.90 232.60 L666.53 232.60 L667.17 232.60 L667.80 232.60 L668.43 232.60 L669.07 232.60 L669.70 232.60 L670.34 232.60 L670.97 232.60 L671.60 232.60 L672.24 232.60 L672.87 232.60 L673.51 232.60 L674.14 232.60 L674.77 232.60 L675.41 232.60 L676.04 232.60 L676.68 232.60 L677.31 232.60 L677.94 232.60 L678.58 232.60 L679.21 232.60 L679.85 232.60 L680.48 232.60 L681.11 232.60 L681.75 232.60 L682.38 232.60 L683.02 232.60 L683.65 232.60 L684.28 232.60 L684.92 232.60 L685.55 251.78 L686.18 232.60 L686.82 232.60 L687.45 232.60 L688.09 232.60 L688.72 232.60 L689.35 232.60 L689.99 232.60 L690.62 232.60 L691.26 232.60 L691.89 232.60 L692.52 232.60 L693.16 232.60 L693.79 232.60 L694.43 232.60 L695.06 232.60 L695.69 232.60 L696.33 232.60 L696.96 232.60 L697.60 232.60 L698.23 232.60 L698.86 232.60 L699.50 232.60 L700.13 232.60 L700.77 232.60 L701.40 232.60 L702.03 232.60 L702.67 232.60 L703.30 232.60 L703.94 232.60 L704.57 232.60 L705.20 232.60 L705.84 232.60 L706.47 232.60 L707.11 232.60 L707.74 232.60 L708.37 232.60 L709.01 232.60 L709.64 232.60 L710.28 232.60 L710.91 232.60 L711.54 232.60 L712.18 232.60 L712.81 232.60 L713.45 232.60 L714.08 232.60 L714.71 232.60 L715.35 232.60 L715.98 232.60 L716.62 232.60 L717.25 232.60" stroke="#ff00ff" stroke-width="1.05"/>
<path d="M400.26 232.60 L400.89 232.60 L401.53 232.60 L402.16 232.60 L402.80 232.60 L403.43 232.60 L404.06 232.60 L404.70 232.60 L405.33 232.59 L405.97 232.59 L406.60 232.59 L407.23 232.59 L407.87 232.59 L408.50 232.59 L409.14 232.59 L409.77 232.58 L410.40 232.58 L411.04 232.58 L411.67 232.58 L412.31 232.57 L412.94 232.57 L413.57 232.57 L414.21 232.57 L414.84 232.56 L415.48 232.56 L416.11 232.56 L416.74 232.55 L417.38 232.55 L418.01 232.54 L418.65 232.54 L419.28 232.53 L419.91 232.52 L420.55 232.52 L421.18 232.51 L421.82 232.50 L422.45 232.49 L423.08 232.48 L423.72 232.47 L424.35 232.46 L424.99 232.44 L425.62 232.43 L426.25 232.41 L426.89 232.39 L427.52 232.36 L428.16 232.34 L428.79 232.31 L429.42 232.28 L430.06 232.24 L430.69 232.20 L431.33 232.15 L431.96 232.09 L432.59 232.03 L433.23 231.96 L433.86 231.87 L434.49 231.78 L435.13 231.66 L435.76 231.54 L436.40 231.39 L437.03 231.22 L437.66 231.02 L438.30 230.80 L438.93 230.55 L439.57 230.26 L440.20 229.93 L440.83 229.56 L441.47 229.14 L442.10 228.68 L442.74 228.16 L443.37 227.58 L444.00 226.94 L444.64 226.23 L445.27 225.45 L445.91 224.61 L446.54 223.69 L447.17 222.70 L447.81 221.63 L448.44 220.49 L449.08 219.28 L449.71 218.00 L450.34 216.66 L450.98 215.25 L451.61 213.79 L452.25 212.29 L452.88 210.75 L453.51 209.19 L454.15 207.61 L454.78 206.03 L455.42 204.46 L456.05 202.93 L456.68 201.43 L457.32 200.00 L457.95 198.64 L458.59 197.37 L459.22 196.20 L459.85 195.15 L460.49 194.24 L461.12 193.47 L461.76 192.85 L462.39 192.40 L463.02 192.12 L463.66 192.01 L464.29 192.23 L464.93 192.95 L465.56 194.14 L466.19 195.77 L466.83 197.81 L467.46 200.19 L468.10 202.86 L468.73 205.76 L469.36 208.81 L470.00 211.96 L470.63 215.13 L471.27 218.29 L471.90 221.37 L472.53 224.35 L473.17 227.22 L473.80 229.96 L474.44 232.60 L475.07 235.15 L475.70 237.63 L476.34 240.09 L476.97 242.54 L477.61 244.99 L478.24 247.47 L478.87 249.94 L479.51 252.39 L480.14 254.78 L480.78 257.08 L481.41 259.22 L482.04 261.15 L482.68 262.83 L483.31 264.21 L483.95 265.24 L484.58 265.90 L485.21 266.17 L485.85 266.14 L486.48 265.95 L487.12 265.59 L487.75 265.06 L488.38 264.37 L489.02 263.54 L489.65 262.58 L490.29 261.49 L490.92 260.30 L491.55 259.01 L492.19 257.66 L492.82 256.25 L493.46 254.80 L494.09 253.33 L494.72 251.85 L495.36 250.39 L495.99 248.95 L496.62 247.54 L497.26 246.19 L497.89 244.89 L498.53 243.65 L499.16 242.49 L499.79 241.40 L500.43 240.38 L501.06 239.45 L501.70 238.59 L502.33 237.81 L502.96 237.10 L503.60 236.47 L504.23 235.90 L504.87 235.40 L505.50 234.96 L506.13 234.58 L506.77 234.24 L507.40 233.94 L508.04 233.69 L508.67 233.47 L509.30 233.28 L509.94 233.11 L510.57 232.97 L511.21 232.83 L511.84 232.71 L512.47 232.60 L513.11 232.49 L513.74 232.38 L514.38 232.26 L515.01 232.13 L515.64 231.99 L516.28 231.83 L516.91 231.64 L517.55 231.44 L518.18 231.20 L518.81 230.93 L519.45 230.62 L520.08 230.26 L520.72 229.86 L521.35 229.42 L521.98 228.91 L522.62 228.36 L523.25 227.74 L523.89 227.06 L524.52 226.33 L525.15 225.53 L525.79 224.67 L526.42 223.76 L527.06 222.79 L527.69 221.77 L528.32 220.71 L528.96 219.61 L529.59 218.48 L530.23 217.34 L530.86 216.18 L531.49 215.03 L532.13 213.89 L532.76 212.78 L533.40 211.71 L534.03 210.69 L534.66 209.74 L535.30 208.86 L535.93 208.08 L536.57 207.39 L537.20 206.82 L537.83 206.36 L538.47 206.03 L539.10 205.83 L539.74 205.75 L540.37 205.81 L541.00 205.99 L541.64 206.30 L542.27 206.72 L542.91 207.25 L543.54 207.88 L544.17 208.61 L544.81 209.43 L545.44 210.32 L546.08 211.28 L546.71 212.29 L547.34 213.34 L547.98 214.42 L548.61 215.52 L549.25 216.63 L549.88 217.74 L550.51 218.83 L551.15 219.90 L551.78 220.94 L552.42 221.95 L553.05 222.91 L553.68 223.83 L554.32 224.69 L554.95 225.51 L555.59 226.26 L556.22 226.97 L556.85 227.61 L557.49 228.21 L558.12 228.75 L558.75 229.23 L559.39 229.67 L560.02 230.07 L560.66 230.42 L561.29 230.73 L561.92 231.00 L562.56 231.24 L563.19 231.45 L563.83 231.63 L564.46 231.79 L565.09 231.92 L565.73 232.04 L566.36 232.14 L567.00 232.23 L567.63 232.31 L568.26 232.37 L568.90 232.43 L569.53 232.49 L570.17 232.53 L570.80 232.58 L571.43 232.62 L572.07 232.66 L572.70 232.71 L573.34 232.75 L573.97 232.80 L574.60 232.86 L575.24 232.92 L575.87 232.98 L576.51 233.06 L577.14 233.15 L577.77 233.26 L578.41 233.38 L579.04 233.51 L579.68 233.67 L580.31 233.85 L580.94 234.06 L581.58 234.30 L582.21 234.57 L582.85 234.87 L583.48 235.22 L584.11 235.60 L584.75 236.02 L585.38 236.50 L586.02 237.01 L586.65 237.58 L587.28 238.20 L587.92 238.86 L588.55 239.58 L589.19 240.34 L589.82 241.14 L590.45 241.99 L591.09 242.88 L591.72 243.80 L592.36 244.75 L592.99 245.72 L593.62 246.70 L594.26 247.68 L594.89 248.66 L595.53 249.61 L596.16 250.55 L596.79 251.44 L597.43 252.28 L598.06 253.06 L598.70 253.77 L599.33 254.40 L599.96 254.94 L600.60 255.37 L601.23 255.70 L601.87 255.92 L602.50 256.01 L603.13 255.94 L603.77 255.63 L604.40 255.10 L605.04 254.35 L605.67 253.41 L606.30 252.28 L606.94 251.00 L607.57 249.59 L608.21 248.08 L608.84 246.50 L609.47 244.88 L610.11 243.27 L610.74 241.68 L611.38 240.15 L612.01 238.70 L612.64 237.37 L613.28 236.15 L613.91 235.08 L614.55 234.14 L615.18 233.32 L615.81 232.60 L616.45 231.95 L617.08 231.31 L617.72 230.65 L618.35 229.92 L618.98 229.10 L619.62 228.18 L620.25 227.15 L620.89 226.04 L621.52 224.86 L622.15 223.63 L622.79 222.39 L623.42 221.16 L624.05 219.97 L624.69 218.86 L625.32 217.83 L625.96 216.93 L626.59 216.16 L627.22 215.55 L627.86 215.11 L628.49 214.84 L629.13 214.75 L629.76 214.81 L630.39 214.97 L631.03 215.22 L631.66 215.56 L632.30 215.99 L632.93 216.49 L633.56 217.06 L634.20 217.70 L634.83 218.37 L635.47 219.09 L636.10 219.84 L636.73 220.61 L637.37 221.39 L638.00 222.17 L638.64 222.95 L639.27 223.72 L639.90 224.46 L640.54 225.18 L641.17 225.87 L641.81 226.53 L642.44 227.14 L643.07 227.72 L643.71 228.26 L644.34 228.76 L644.98 229.22 L645.61 229.64 L646.24 230.01 L646.88 230.36 L647.51 230.66 L648.15 230.93 L648.78 231.17 L649.41 231.38 L650.05 231.57 L650.68 231.73 L651.32 231.87 L651.95 231.99 L652.58 232.10 L653.22 232.19 L653.85 232.27 L654.49 232.34 L655.12 232.40 L655.75 232.46 L656.39 232.52 L657.02 232.57 L657.66 232.63 L658.29 232.68 L658.92 232.75 L659.56 232.81 L660.19 232.89 L660.83 232.98 L661.46 233.08 L662.09 233.20 L662.73 233.33 L663.36 233.48 L664.00 233.66 L664.63 233.86 L665.26 234.10 L665.90 234.36 L666.53 234.65 L667.17 234.98 L667.80 235.35 L668.43 235.76 L669.07 236.21 L669.70 236.70 L670.34 237.24 L670.97 237.81 L671.60 238.43 L672.24 239.08 L672.87 239.78 L673.51 240.50 L674.14 241.26 L674.77 242.04 L675.41 242.84 L676.04 243.65 L676.68 244.46 L677.31 245.28 L677.94 246.08 L678.58 246.86 L679.21 247.61 L679.85 248.32 L680.48 248.99 L681.11 249.60 L681.75 250.15 L682.38 250.63 L683.02 251.03 L683.65 251.35 L684.28 251.58 L684.92 251.73 L685.55 251.78 L686.18 251.72 L686.82 251.57 L687.45 251.31 L688.09 250.95 L688.72 250.50 L689.35 249.96 L689.99 249.34 L690.62 248.65 L691.26 247.91 L691.89 247.11 L692.52 246.28 L693.16 245.43 L693.79 244.55 L694.43 243.68 L695.06 242.81 L695.69 241.95 L696.33 241.11 L696.96 240.30 L697.60 239.53 L698.23 238.80 L698.86 238.11 L699.50 237.46 L700.13 236.87 L700.77 236.32 L701.40 235.82 L702.03 235.37 L702.67 234.97 L703.30 234.61 L703.94 234.29 L704.57 234.02 L705.20 233.78 L705.84 233.57 L706.47 233.39 L707.11 233.24 L707.74 233.11 L708.37 233.01 L709.01 232.92 L709.64 232.85 L710.28 232.79 L710.91 232.74 L711.54 232.70 L712.18 232.68 L712.81 232.65 L713.45 232.64 L714.08 232.62 L714.71 232.61 L715.35 232.61 L715.98 232.60 L716.62 232.60 L717.25 232.60" stroke="#ff0000" stroke-width="1.4"/>
</g>
<text x="431.56" y="304.50" class="tk" text-anchor="middle">50</text>
<text x="463.26" y="304.50" class="tk" text-anchor="middle">100</text>
<text x="494.96" y="304.50" class="tk" text-anchor="middle">150</text>
<text x="526.66" y="304.50" class="tk" text-anchor="middle">200</text>
<text x="558.36" y="304.50" class="tk" text-anchor="middle">250</text>
<text x="590.05" y="304.50" class="tk" text-anchor="middle">300</text>
<text x="621.75" y="304.50" class="tk" text-anchor="middle">350</text>
<text x="653.45" y="304.50" class="tk" text-anchor="middle">400</text>
<text x="685.15" y="304.50" class="tk" text-anchor="middle">450</text>
<text x="716.85" y="304.50" class="tk" text-anchor="middle">500</text>
<text x="396.40" y="274.75" class="tk" text-anchor="end">-1</text>
<text x="396.40" y="236.40" class="tk" text-anchor="end">0</text>
<text x="396.40" y="198.05" class="tk" text-anchor="end">1</text>
<text class="ti" text-anchor="middle" transform="translate(559.50 170.60) scale(1.080 1)">Step (4)</text>
<text class="lb" text-anchor="middle" transform="translate(560.00 318.40) scale(1.080 1)">Time (ms)</text>
<text class="lb" text-anchor="middle" transform="translate(382.60 233.20) rotate(-90) scale(1.080 1)">Amp.</text>
</g>
<rect x="518.70" y="275.80" width="199.30" height="14.50" fill="#fff"/><path d="M518.70 275.20V290.90M718.00 275.20V290.90" stroke="#7c7c7c" stroke-width="1" fill="none"/><path d="M518.20 275.80H718.50M518.20 290.30H718.50" stroke="#7a7a7a" stroke-width="1.2" fill="none"/>
<path d="M522.0 282.70H543.5" stroke="#111" stroke-width="1.2"/>
<path d="M573.3 282.70H595.2" stroke="#ff00ff" stroke-width="1.1"/>
<path d="M663.8 282.70H685.7" stroke="#ff0000" stroke-width="1.4"/>
<text x="546.00" y="285.80" class="lg">signal</text>
<text x="597.30" y="285.80" class="lg">reflection series</text>
<text x="688.40" y="285.80" class="lg">E-SAP</text>
</svg>
</body></html>
